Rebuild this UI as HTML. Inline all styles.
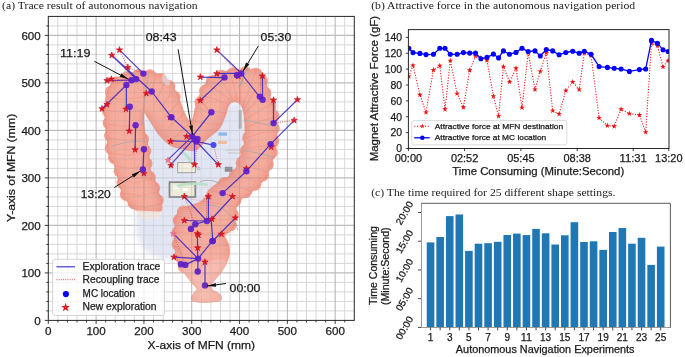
<!DOCTYPE html><html><head><meta charset="utf-8"><style>html,body{margin:0;padding:0;background:#fff;}svg{display:block;}text[font-family*="Sans"]{stroke:#1a1a1a;stroke-width:0.25px;}</style></head><body>
<svg width="685" height="357" viewBox="0 0 685 357">
<rect width="685" height="357" fill="#fff"/>
<g opacity="0.999">
<defs><filter id="blur1" x="-20%" y="-20%" width="140%" height="140%"><feGaussianBlur stdDeviation="0.6"/></filter><filter id="blur3" x="-30%" y="-30%" width="160%" height="160%"><feGaussianBlur stdDeviation="3"/></filter></defs>
<text x="2.10" y="9.10" font-size="11.2" font-family='"Liberation Serif", serif' text-anchor="start" fill="#1a1a1a" textLength="195.6" lengthAdjust="spacingAndGlyphs" >(a) Trace result of autonomous navigation</text>
<path d="M57.86 16.4V320.4M48.3 310.90H354.3M67.42 16.4V320.4M48.3 301.40H354.3M76.99 16.4V320.4M48.3 291.90H354.3M86.55 16.4V320.4M48.3 282.40H354.3M105.67 16.4V320.4M48.3 263.40H354.3M115.24 16.4V320.4M48.3 253.90H354.3M124.80 16.4V320.4M48.3 244.40H354.3M134.36 16.4V320.4M48.3 234.90H354.3M153.49 16.4V320.4M48.3 215.90H354.3M163.05 16.4V320.4M48.3 206.40H354.3M172.61 16.4V320.4M48.3 196.90H354.3M182.18 16.4V320.4M48.3 187.40H354.3M201.30 16.4V320.4M48.3 168.40H354.3M210.86 16.4V320.4M48.3 158.90H354.3M220.43 16.4V320.4M48.3 149.40H354.3M229.99 16.4V320.4M48.3 139.90H354.3M249.11 16.4V320.4M48.3 120.90H354.3M258.68 16.4V320.4M48.3 111.40H354.3M268.24 16.4V320.4M48.3 101.90H354.3M277.80 16.4V320.4M48.3 92.40H354.3M296.93 16.4V320.4M48.3 73.40H354.3M306.49 16.4V320.4M48.3 63.90H354.3M316.05 16.4V320.4M48.3 54.40H354.3M325.61 16.4V320.4M48.3 44.90H354.3M344.74 16.4V320.4M48.3 25.90H354.3" stroke="#d4d4d4" stroke-width="0.9" fill="none"/>
<path d="M96.11 16.4V320.4M143.93 16.4V320.4M191.74 16.4V320.4M239.55 16.4V320.4M287.36 16.4V320.4M335.18 16.4V320.4" stroke="#ababab" stroke-width="0.9" fill="none"/>
<path d="M48.3 272.90H354.3M48.3 225.40H354.3M48.3 177.90H354.3M48.3 130.40H354.3M48.3 82.90H354.3M48.3 35.40H354.3" stroke="#bdbdbd" stroke-width="1.1" fill="none"/>
<g filter="url(#blur3)"><path d="M145 112 L190 140 L226 104 L244 102 L249 150 L245 178 L235 195 L215 208 L190 218 L180 232 L181 258 L162 259 L145 251 L136 232 L137 212 L160 212 L150 180 L144 150 Z" fill="#e2e5f3"/><ellipse cx="166" cy="80" rx="5" ry="4" fill="#e4e8f5"/></g>
<clipPath id="cc"><path d="M105 103C105.5 99.5 106.5 95.2 107.5 92C108.5 88.8 109.2 86.4 111 84C112.8 81.6 115.2 79.2 118 77.5C120.8 75.8 124.3 74.5 128 73.5C131.7 72.5 136.3 71.8 140 71.5C143.7 71.2 146.7 71.4 150 72C153.3 72.6 156.7 73.3 160 75C163.3 76.7 167.3 79.2 170 82C172.7 84.8 174.2 88.3 176 92C177.8 95.7 179.6 100.5 181 104C182.4 107.5 183.3 110.4 184.5 113C185.7 115.6 187.0 118.1 188 119.5C189.0 120.9 189.7 121.8 190.5 121.5C191.3 121.2 192.2 120.4 193 118C193.8 115.6 194.2 111.2 195.5 107C196.8 102.8 198.8 97.0 200.5 93C202.2 89.0 203.9 85.8 206 83C208.1 80.2 210.3 77.8 213 76C215.7 74.2 218.2 73.0 222 72C225.8 71.0 231.7 70.3 236 69.8C240.3 69.3 244.5 68.9 248 69C251.5 69.1 254.5 69.5 257 70.5C259.5 71.5 261.4 72.6 263 75C264.6 77.4 265.4 81.7 266.5 85C267.6 88.3 268.3 91.8 269.5 95C270.7 98.2 272.3 101.0 273.5 104C274.7 107.0 275.9 109.3 276.5 113C277.1 116.7 277.1 120.2 277 126C276.9 131.8 276.8 142.0 276 148C275.2 154.0 273.3 157.8 272 162C270.7 166.2 269.7 169.7 268 173C266.3 176.3 264.3 179.2 262 182C259.7 184.8 256.7 187.7 254 190C251.3 192.3 248.3 194.3 246 196C243.7 197.7 241.6 198.3 240 200C238.4 201.7 237.2 203.5 236.5 206C235.8 208.5 236.3 211.8 236 215C235.7 218.2 235.7 222.2 234.5 225C233.3 227.8 230.6 230.2 229 232C227.4 233.8 225.1 234.0 225 236C224.9 238.0 227.8 241.3 228.5 244C229.2 246.7 229.7 249.2 229.5 252C229.3 254.8 228.8 257.8 227.5 261C226.2 264.2 224.0 268.0 222 271C220.0 274.0 217.3 276.8 215.5 279C213.7 281.2 211.5 282.7 211 284.5C210.5 286.3 211.3 288.6 212.5 290C213.7 291.4 216.5 291.8 218 293C219.5 294.2 221.3 295.7 221.5 297C221.7 298.3 221.6 300.1 219 301C216.4 301.9 210.2 302.4 206 302.5C201.8 302.6 196.5 302.2 194 301.5C191.5 300.8 191.2 299.4 191.2 298C191.2 296.6 193.0 294.5 194 293C195.0 291.5 197.3 290.7 197 289C196.7 287.3 194.0 285.5 192 283C190.0 280.5 187.2 277.0 185 274C182.8 271.0 180.6 268.7 179 265C177.4 261.3 176.3 256.5 175.5 252C174.7 247.5 174.1 242.7 174 238C173.9 233.3 174.6 227.7 175 224C175.4 220.3 175.8 218.2 176.5 216C177.2 213.8 178.2 211.9 179.5 210.5C180.8 209.1 181.9 208.4 184 207.5C186.1 206.6 189.3 205.9 192 205C194.7 204.1 197.8 203.3 200 202C202.2 200.7 203.5 199.0 205 197C206.5 195.0 207.0 192.2 209 190C211.0 187.8 213.5 185.9 217 183.5C220.5 181.1 226.8 178.2 230 175.5C233.2 172.8 234.8 170.1 236.5 167C238.2 163.9 238.8 160.7 240 157C241.2 153.3 243.2 149.5 244 145C244.8 140.5 245.1 135.5 245 130C244.9 124.5 244.3 116.3 243.5 112C242.7 107.7 241.6 105.7 240 104C238.4 102.3 235.8 101.8 234 102C232.2 102.2 230.3 103.0 229 105C227.7 107.0 227.2 110.8 226 114C224.8 117.2 223.3 121.3 222 124C220.7 126.7 219.7 128.2 218 130C216.3 131.8 214.0 133.3 212 135C210.0 136.7 207.8 138.2 206 140C204.2 141.8 202.8 144.2 201 146C199.2 147.8 197.5 149.8 195 150.5C192.5 151.2 188.5 150.3 186 150C183.5 149.7 182.4 149.2 180 148.5C177.6 147.8 173.9 147.2 171.5 146C169.1 144.8 167.6 143.4 165.5 141.5C163.4 139.6 161.0 137.3 159 134.8C157.0 132.3 155.2 129.2 153.4 126.4C151.6 123.6 149.6 120.2 148 118C146.4 115.8 144.5 110.7 144 113C143.5 115.3 144.3 126.5 145 132C145.7 137.5 147.2 141.3 148 146C148.8 150.7 149.0 155.7 149.5 160C150.0 164.3 150.1 168.7 151 172C151.9 175.3 153.7 176.5 155 180C156.3 183.5 157.9 189.2 159 193C160.1 196.8 161.2 200.0 161.5 203C161.8 206.0 162.9 209.4 161 211C159.1 212.6 153.5 212.3 150 212.5C146.5 212.7 142.4 212.4 140 212C137.6 211.6 137.0 211.2 135.5 210C134.0 208.8 132.9 207.0 131 205C129.1 203.0 125.7 200.5 124 198C122.3 195.5 121.9 193.0 121 190C120.1 187.0 119.3 183.3 118.5 180C117.7 176.7 116.9 173.0 116 170C115.1 167.0 114.2 164.3 113 162C111.8 159.7 109.9 158.3 109 156C108.1 153.7 107.8 151.0 107.5 148C107.2 145.0 107.3 141.8 107 138C106.7 134.2 105.9 129.2 105.5 125C105.1 120.8 104.6 116.7 104.5 113C104.4 109.3 104.5 106.5 105 103Z"/><circle cx="111.3" cy="91.9" r="6.3"/><circle cx="116.9" cy="82.8" r="6.3"/><circle cx="126.6" cy="77.6" r="6.3"/><circle cx="138.4" cy="75.3" r="6.3"/><circle cx="149.9" cy="75.6" r="6.3"/><circle cx="160.6" cy="79.4" r="6.3"/><circle cx="168.9" cy="86.3" r="6.3"/><circle cx="174.3" cy="97.0" r="6.3"/><circle cx="200.8" cy="102.2" r="6.3"/><circle cx="205.4" cy="90.9" r="6.3"/><circle cx="212.0" cy="81.5" r="6.3"/><circle cx="221.2" cy="76.0" r="6.3"/><circle cx="233.0" cy="73.8" r="6.3"/><circle cx="245.1" cy="72.6" r="6.3"/><circle cx="256.0" cy="74.0" r="6.3"/><circle cx="261.6" cy="81.0" r="6.3"/><circle cx="265.1" cy="93.1" r="6.3"/><circle cx="270.1" cy="105.1" r="6.3"/><circle cx="273.3" cy="116.1" r="6.3"/><circle cx="273.4" cy="128.3" r="6.3"/><circle cx="273.0" cy="140.9" r="6.3"/><circle cx="271.4" cy="152.6" r="6.3"/><circle cx="267.4" cy="164.5" r="6.3"/><circle cx="262.7" cy="175.1" r="6.3"/><circle cx="255.0" cy="184.2" r="6.3"/><circle cx="245.6" cy="191.9" r="6.3"/><circle cx="235.0" cy="200.6" r="6.3"/><circle cx="232.4" cy="214.5" r="6.3"/><circle cx="230.4" cy="225.0" r="6.3"/><circle cx="184.1" cy="266.8" r="6.3"/><circle cx="180.1" cy="256.3" r="6.3"/><circle cx="178.0" cy="244.3" r="6.3"/><circle cx="177.8" cy="232.4" r="6.3"/><circle cx="179.1" cy="220.3" r="6.3"/><circle cx="183.3" cy="211.9" r="6.3"/><circle cx="224.3" cy="183.4" r="6.3"/><circle cx="235.4" cy="175.2" r="6.3"/><circle cx="242.0" cy="162.8" r="6.3"/><circle cx="246.1" cy="151.0" r="6.3"/><circle cx="248.5" cy="137.7" r="6.3"/><circle cx="142.7" cy="139.2" r="6.3"/><circle cx="145.0" cy="151.0" r="6.3"/><circle cx="146.2" cy="163.5" r="6.3"/><circle cx="149.4" cy="177.3" r="6.3"/><circle cx="153.9" cy="188.1" r="6.3"/><circle cx="157.3" cy="200.2" r="6.3"/><circle cx="133.9" cy="202.9" r="6.3"/><circle cx="126.2" cy="194.5" r="6.3"/><circle cx="122.9" cy="183.0" r="6.3"/><circle cx="119.9" cy="170.7" r="6.3"/><circle cx="114.5" cy="157.8" r="6.3"/><circle cx="111.1" cy="148.1" r="6.3"/><circle cx="110.4" cy="135.5" r="6.3"/><circle cx="108.9" cy="123.1" r="6.3"/><circle cx="108.1" cy="110.9" r="6.3"/></clipPath>
<clipPath id="cc2"><path d="M105 103C105.5 99.5 106.5 95.2 107.5 92C108.5 88.8 109.2 86.4 111 84C112.8 81.6 115.2 79.2 118 77.5C120.8 75.8 124.3 74.5 128 73.5C131.7 72.5 136.3 71.8 140 71.5C143.7 71.2 146.7 71.4 150 72C153.3 72.6 156.7 73.3 160 75C163.3 76.7 167.3 79.2 170 82C172.7 84.8 174.2 88.3 176 92C177.8 95.7 179.6 100.5 181 104C182.4 107.5 183.3 110.4 184.5 113C185.7 115.6 187.0 118.1 188 119.5C189.0 120.9 189.7 121.8 190.5 121.5C191.3 121.2 192.2 120.4 193 118C193.8 115.6 194.2 111.2 195.5 107C196.8 102.8 198.8 97.0 200.5 93C202.2 89.0 203.9 85.8 206 83C208.1 80.2 210.3 77.8 213 76C215.7 74.2 218.2 73.0 222 72C225.8 71.0 231.7 70.3 236 69.8C240.3 69.3 244.5 68.9 248 69C251.5 69.1 254.5 69.5 257 70.5C259.5 71.5 261.4 72.6 263 75C264.6 77.4 265.4 81.7 266.5 85C267.6 88.3 268.3 91.8 269.5 95C270.7 98.2 272.3 101.0 273.5 104C274.7 107.0 275.9 109.3 276.5 113C277.1 116.7 277.1 120.2 277 126C276.9 131.8 276.8 142.0 276 148C275.2 154.0 273.3 157.8 272 162C270.7 166.2 269.7 169.7 268 173C266.3 176.3 264.3 179.2 262 182C259.7 184.8 256.7 187.7 254 190C251.3 192.3 248.3 194.3 246 196C243.7 197.7 241.6 198.3 240 200C238.4 201.7 237.2 203.5 236.5 206C235.8 208.5 236.3 211.8 236 215C235.7 218.2 235.7 222.2 234.5 225C233.3 227.8 230.6 230.2 229 232C227.4 233.8 225.1 234.0 225 236C224.9 238.0 227.8 241.3 228.5 244C229.2 246.7 229.7 249.2 229.5 252C229.3 254.8 228.8 257.8 227.5 261C226.2 264.2 224.0 268.0 222 271C220.0 274.0 217.3 276.8 215.5 279C213.7 281.2 211.5 282.7 211 284.5C210.5 286.3 211.3 288.6 212.5 290C213.7 291.4 216.5 291.8 218 293C219.5 294.2 221.3 295.7 221.5 297C221.7 298.3 221.6 300.1 219 301C216.4 301.9 210.2 302.4 206 302.5C201.8 302.6 196.5 302.2 194 301.5C191.5 300.8 191.2 299.4 191.2 298C191.2 296.6 193.0 294.5 194 293C195.0 291.5 197.3 290.7 197 289C196.7 287.3 194.0 285.5 192 283C190.0 280.5 187.2 277.0 185 274C182.8 271.0 180.6 268.7 179 265C177.4 261.3 176.3 256.5 175.5 252C174.7 247.5 174.1 242.7 174 238C173.9 233.3 174.6 227.7 175 224C175.4 220.3 175.8 218.2 176.5 216C177.2 213.8 178.2 211.9 179.5 210.5C180.8 209.1 181.9 208.4 184 207.5C186.1 206.6 189.3 205.9 192 205C194.7 204.1 197.8 203.3 200 202C202.2 200.7 203.5 199.0 205 197C206.5 195.0 207.0 192.2 209 190C211.0 187.8 213.5 185.9 217 183.5C220.5 181.1 226.8 178.2 230 175.5C233.2 172.8 234.8 170.1 236.5 167C238.2 163.9 238.8 160.7 240 157C241.2 153.3 243.2 149.5 244 145C244.8 140.5 245.1 135.5 245 130C244.9 124.5 244.3 116.3 243.5 112C242.7 107.7 241.6 105.7 240 104C238.4 102.3 235.8 101.8 234 102C232.2 102.2 230.3 103.0 229 105C227.7 107.0 227.2 110.8 226 114C224.8 117.2 223.3 121.3 222 124C220.7 126.7 219.7 128.2 218 130C216.3 131.8 214.0 133.3 212 135C210.0 136.7 207.8 138.2 206 140C204.2 141.8 202.8 144.2 201 146C199.2 147.8 197.5 149.8 195 150.5C192.5 151.2 188.5 150.3 186 150C183.5 149.7 182.4 149.2 180 148.5C177.6 147.8 173.9 147.2 171.5 146C169.1 144.8 167.6 143.4 165.5 141.5C163.4 139.6 161.0 137.3 159 134.8C157.0 132.3 155.2 129.2 153.4 126.4C151.6 123.6 149.6 120.2 148 118C146.4 115.8 144.5 110.7 144 113C143.5 115.3 144.3 126.5 145 132C145.7 137.5 147.2 141.3 148 146C148.8 150.7 149.0 155.7 149.5 160C150.0 164.3 150.1 168.7 151 172C151.9 175.3 153.7 176.5 155 180C156.3 183.5 157.9 189.2 159 193C160.1 196.8 161.2 200.0 161.5 203C161.8 206.0 162.9 209.4 161 211C159.1 212.6 153.5 212.3 150 212.5C146.5 212.7 142.4 212.4 140 212C137.6 211.6 137.0 211.2 135.5 210C134.0 208.8 132.9 207.0 131 205C129.1 203.0 125.7 200.5 124 198C122.3 195.5 121.9 193.0 121 190C120.1 187.0 119.3 183.3 118.5 180C117.7 176.7 116.9 173.0 116 170C115.1 167.0 114.2 164.3 113 162C111.8 159.7 109.9 158.3 109 156C108.1 153.7 107.8 151.0 107.5 148C107.2 145.0 107.3 141.8 107 138C106.7 134.2 105.9 129.2 105.5 125C105.1 120.8 104.6 116.7 104.5 113C104.4 109.3 104.5 106.5 105 103Z"/><circle cx="111.3" cy="91.9" r="6.3"/><circle cx="116.9" cy="82.8" r="6.3"/><circle cx="126.6" cy="77.6" r="6.3"/><circle cx="138.4" cy="75.3" r="6.3"/><circle cx="149.9" cy="75.6" r="6.3"/><circle cx="160.6" cy="79.4" r="6.3"/><circle cx="168.9" cy="86.3" r="6.3"/><circle cx="174.3" cy="97.0" r="6.3"/><circle cx="200.8" cy="102.2" r="6.3"/><circle cx="205.4" cy="90.9" r="6.3"/><circle cx="212.0" cy="81.5" r="6.3"/><circle cx="221.2" cy="76.0" r="6.3"/><circle cx="233.0" cy="73.8" r="6.3"/><circle cx="245.1" cy="72.6" r="6.3"/><circle cx="256.0" cy="74.0" r="6.3"/><circle cx="261.6" cy="81.0" r="6.3"/><circle cx="265.1" cy="93.1" r="6.3"/><circle cx="270.1" cy="105.1" r="6.3"/><circle cx="273.3" cy="116.1" r="6.3"/><circle cx="273.4" cy="128.3" r="6.3"/><circle cx="273.0" cy="140.9" r="6.3"/><circle cx="271.4" cy="152.6" r="6.3"/><circle cx="267.4" cy="164.5" r="6.3"/><circle cx="262.7" cy="175.1" r="6.3"/><circle cx="255.0" cy="184.2" r="6.3"/><circle cx="245.6" cy="191.9" r="6.3"/><circle cx="235.0" cy="200.6" r="6.3"/><circle cx="232.4" cy="214.5" r="6.3"/><circle cx="230.4" cy="225.0" r="6.3"/><circle cx="184.1" cy="266.8" r="6.3"/><circle cx="180.1" cy="256.3" r="6.3"/><circle cx="178.0" cy="244.3" r="6.3"/><circle cx="177.8" cy="232.4" r="6.3"/><circle cx="179.1" cy="220.3" r="6.3"/><circle cx="183.3" cy="211.9" r="6.3"/><circle cx="224.3" cy="183.4" r="6.3"/><circle cx="235.4" cy="175.2" r="6.3"/><circle cx="242.0" cy="162.8" r="6.3"/><circle cx="246.1" cy="151.0" r="6.3"/><circle cx="248.5" cy="137.7" r="6.3"/><circle cx="142.7" cy="139.2" r="6.3"/><circle cx="145.0" cy="151.0" r="6.3"/><circle cx="146.2" cy="163.5" r="6.3"/><circle cx="149.4" cy="177.3" r="6.3"/><circle cx="153.9" cy="188.1" r="6.3"/><circle cx="157.3" cy="200.2" r="6.3"/><circle cx="133.9" cy="202.9" r="6.3"/><circle cx="126.2" cy="194.5" r="6.3"/><circle cx="122.9" cy="183.0" r="6.3"/><circle cx="119.9" cy="170.7" r="6.3"/><circle cx="114.5" cy="157.8" r="6.3"/><circle cx="111.1" cy="148.1" r="6.3"/><circle cx="110.4" cy="135.5" r="6.3"/><circle cx="108.9" cy="123.1" r="6.3"/><circle cx="108.1" cy="110.9" r="6.3"/><path d="M145 112 L190 140 L226 104 L244 102 L249 150 L245 178 L235 195 L215 208 L190 218 L180 232 L181 258 L162 259 L145 251 L136 232 L137 212 L160 212 L150 180 L144 150 Z"/></clipPath>
<g opacity="0.76" fill="#f5937f"><path d="M105 103C105.5 99.5 106.5 95.2 107.5 92C108.5 88.8 109.2 86.4 111 84C112.8 81.6 115.2 79.2 118 77.5C120.8 75.8 124.3 74.5 128 73.5C131.7 72.5 136.3 71.8 140 71.5C143.7 71.2 146.7 71.4 150 72C153.3 72.6 156.7 73.3 160 75C163.3 76.7 167.3 79.2 170 82C172.7 84.8 174.2 88.3 176 92C177.8 95.7 179.6 100.5 181 104C182.4 107.5 183.3 110.4 184.5 113C185.7 115.6 187.0 118.1 188 119.5C189.0 120.9 189.7 121.8 190.5 121.5C191.3 121.2 192.2 120.4 193 118C193.8 115.6 194.2 111.2 195.5 107C196.8 102.8 198.8 97.0 200.5 93C202.2 89.0 203.9 85.8 206 83C208.1 80.2 210.3 77.8 213 76C215.7 74.2 218.2 73.0 222 72C225.8 71.0 231.7 70.3 236 69.8C240.3 69.3 244.5 68.9 248 69C251.5 69.1 254.5 69.5 257 70.5C259.5 71.5 261.4 72.6 263 75C264.6 77.4 265.4 81.7 266.5 85C267.6 88.3 268.3 91.8 269.5 95C270.7 98.2 272.3 101.0 273.5 104C274.7 107.0 275.9 109.3 276.5 113C277.1 116.7 277.1 120.2 277 126C276.9 131.8 276.8 142.0 276 148C275.2 154.0 273.3 157.8 272 162C270.7 166.2 269.7 169.7 268 173C266.3 176.3 264.3 179.2 262 182C259.7 184.8 256.7 187.7 254 190C251.3 192.3 248.3 194.3 246 196C243.7 197.7 241.6 198.3 240 200C238.4 201.7 237.2 203.5 236.5 206C235.8 208.5 236.3 211.8 236 215C235.7 218.2 235.7 222.2 234.5 225C233.3 227.8 230.6 230.2 229 232C227.4 233.8 225.1 234.0 225 236C224.9 238.0 227.8 241.3 228.5 244C229.2 246.7 229.7 249.2 229.5 252C229.3 254.8 228.8 257.8 227.5 261C226.2 264.2 224.0 268.0 222 271C220.0 274.0 217.3 276.8 215.5 279C213.7 281.2 211.5 282.7 211 284.5C210.5 286.3 211.3 288.6 212.5 290C213.7 291.4 216.5 291.8 218 293C219.5 294.2 221.3 295.7 221.5 297C221.7 298.3 221.6 300.1 219 301C216.4 301.9 210.2 302.4 206 302.5C201.8 302.6 196.5 302.2 194 301.5C191.5 300.8 191.2 299.4 191.2 298C191.2 296.6 193.0 294.5 194 293C195.0 291.5 197.3 290.7 197 289C196.7 287.3 194.0 285.5 192 283C190.0 280.5 187.2 277.0 185 274C182.8 271.0 180.6 268.7 179 265C177.4 261.3 176.3 256.5 175.5 252C174.7 247.5 174.1 242.7 174 238C173.9 233.3 174.6 227.7 175 224C175.4 220.3 175.8 218.2 176.5 216C177.2 213.8 178.2 211.9 179.5 210.5C180.8 209.1 181.9 208.4 184 207.5C186.1 206.6 189.3 205.9 192 205C194.7 204.1 197.8 203.3 200 202C202.2 200.7 203.5 199.0 205 197C206.5 195.0 207.0 192.2 209 190C211.0 187.8 213.5 185.9 217 183.5C220.5 181.1 226.8 178.2 230 175.5C233.2 172.8 234.8 170.1 236.5 167C238.2 163.9 238.8 160.7 240 157C241.2 153.3 243.2 149.5 244 145C244.8 140.5 245.1 135.5 245 130C244.9 124.5 244.3 116.3 243.5 112C242.7 107.7 241.6 105.7 240 104C238.4 102.3 235.8 101.8 234 102C232.2 102.2 230.3 103.0 229 105C227.7 107.0 227.2 110.8 226 114C224.8 117.2 223.3 121.3 222 124C220.7 126.7 219.7 128.2 218 130C216.3 131.8 214.0 133.3 212 135C210.0 136.7 207.8 138.2 206 140C204.2 141.8 202.8 144.2 201 146C199.2 147.8 197.5 149.8 195 150.5C192.5 151.2 188.5 150.3 186 150C183.5 149.7 182.4 149.2 180 148.5C177.6 147.8 173.9 147.2 171.5 146C169.1 144.8 167.6 143.4 165.5 141.5C163.4 139.6 161.0 137.3 159 134.8C157.0 132.3 155.2 129.2 153.4 126.4C151.6 123.6 149.6 120.2 148 118C146.4 115.8 144.5 110.7 144 113C143.5 115.3 144.3 126.5 145 132C145.7 137.5 147.2 141.3 148 146C148.8 150.7 149.0 155.7 149.5 160C150.0 164.3 150.1 168.7 151 172C151.9 175.3 153.7 176.5 155 180C156.3 183.5 157.9 189.2 159 193C160.1 196.8 161.2 200.0 161.5 203C161.8 206.0 162.9 209.4 161 211C159.1 212.6 153.5 212.3 150 212.5C146.5 212.7 142.4 212.4 140 212C137.6 211.6 137.0 211.2 135.5 210C134.0 208.8 132.9 207.0 131 205C129.1 203.0 125.7 200.5 124 198C122.3 195.5 121.9 193.0 121 190C120.1 187.0 119.3 183.3 118.5 180C117.7 176.7 116.9 173.0 116 170C115.1 167.0 114.2 164.3 113 162C111.8 159.7 109.9 158.3 109 156C108.1 153.7 107.8 151.0 107.5 148C107.2 145.0 107.3 141.8 107 138C106.7 134.2 105.9 129.2 105.5 125C105.1 120.8 104.6 116.7 104.5 113C104.4 109.3 104.5 106.5 105 103Z"/><circle cx="111.3" cy="91.9" r="6.3"/><circle cx="116.9" cy="82.8" r="6.3"/><circle cx="126.6" cy="77.6" r="6.3"/><circle cx="138.4" cy="75.3" r="6.3"/><circle cx="149.9" cy="75.6" r="6.3"/><circle cx="160.6" cy="79.4" r="6.3"/><circle cx="168.9" cy="86.3" r="6.3"/><circle cx="174.3" cy="97.0" r="6.3"/><circle cx="200.8" cy="102.2" r="6.3"/><circle cx="205.4" cy="90.9" r="6.3"/><circle cx="212.0" cy="81.5" r="6.3"/><circle cx="221.2" cy="76.0" r="6.3"/><circle cx="233.0" cy="73.8" r="6.3"/><circle cx="245.1" cy="72.6" r="6.3"/><circle cx="256.0" cy="74.0" r="6.3"/><circle cx="261.6" cy="81.0" r="6.3"/><circle cx="265.1" cy="93.1" r="6.3"/><circle cx="270.1" cy="105.1" r="6.3"/><circle cx="273.3" cy="116.1" r="6.3"/><circle cx="273.4" cy="128.3" r="6.3"/><circle cx="273.0" cy="140.9" r="6.3"/><circle cx="271.4" cy="152.6" r="6.3"/><circle cx="267.4" cy="164.5" r="6.3"/><circle cx="262.7" cy="175.1" r="6.3"/><circle cx="255.0" cy="184.2" r="6.3"/><circle cx="245.6" cy="191.9" r="6.3"/><circle cx="235.0" cy="200.6" r="6.3"/><circle cx="232.4" cy="214.5" r="6.3"/><circle cx="230.4" cy="225.0" r="6.3"/><circle cx="184.1" cy="266.8" r="6.3"/><circle cx="180.1" cy="256.3" r="6.3"/><circle cx="178.0" cy="244.3" r="6.3"/><circle cx="177.8" cy="232.4" r="6.3"/><circle cx="179.1" cy="220.3" r="6.3"/><circle cx="183.3" cy="211.9" r="6.3"/><circle cx="224.3" cy="183.4" r="6.3"/><circle cx="235.4" cy="175.2" r="6.3"/><circle cx="242.0" cy="162.8" r="6.3"/><circle cx="246.1" cy="151.0" r="6.3"/><circle cx="248.5" cy="137.7" r="6.3"/><circle cx="142.7" cy="139.2" r="6.3"/><circle cx="145.0" cy="151.0" r="6.3"/><circle cx="146.2" cy="163.5" r="6.3"/><circle cx="149.4" cy="177.3" r="6.3"/><circle cx="153.9" cy="188.1" r="6.3"/><circle cx="157.3" cy="200.2" r="6.3"/><circle cx="133.9" cy="202.9" r="6.3"/><circle cx="126.2" cy="194.5" r="6.3"/><circle cx="122.9" cy="183.0" r="6.3"/><circle cx="119.9" cy="170.7" r="6.3"/><circle cx="114.5" cy="157.8" r="6.3"/><circle cx="111.1" cy="148.1" r="6.3"/><circle cx="110.4" cy="135.5" r="6.3"/><circle cx="108.9" cy="123.1" r="6.3"/><circle cx="108.1" cy="110.9" r="6.3"/></g>
<g clip-path="url(#cc)"><path d="M105 103C105.5 99.5 106.5 95.2 107.5 92C108.5 88.8 109.2 86.4 111 84C112.8 81.6 115.2 79.2 118 77.5C120.8 75.8 124.3 74.5 128 73.5C131.7 72.5 136.3 71.8 140 71.5C143.7 71.2 146.7 71.4 150 72C153.3 72.6 156.7 73.3 160 75C163.3 76.7 167.3 79.2 170 82C172.7 84.8 174.2 88.3 176 92C177.8 95.7 179.6 100.5 181 104C182.4 107.5 183.3 110.4 184.5 113C185.7 115.6 187.0 118.1 188 119.5C189.0 120.9 189.7 121.8 190.5 121.5C191.3 121.2 192.2 120.4 193 118C193.8 115.6 194.2 111.2 195.5 107C196.8 102.8 198.8 97.0 200.5 93C202.2 89.0 203.9 85.8 206 83C208.1 80.2 210.3 77.8 213 76C215.7 74.2 218.2 73.0 222 72C225.8 71.0 231.7 70.3 236 69.8C240.3 69.3 244.5 68.9 248 69C251.5 69.1 254.5 69.5 257 70.5C259.5 71.5 261.4 72.6 263 75C264.6 77.4 265.4 81.7 266.5 85C267.6 88.3 268.3 91.8 269.5 95C270.7 98.2 272.3 101.0 273.5 104C274.7 107.0 275.9 109.3 276.5 113C277.1 116.7 277.1 120.2 277 126C276.9 131.8 276.8 142.0 276 148C275.2 154.0 273.3 157.8 272 162C270.7 166.2 269.7 169.7 268 173C266.3 176.3 264.3 179.2 262 182C259.7 184.8 256.7 187.7 254 190C251.3 192.3 248.3 194.3 246 196C243.7 197.7 241.6 198.3 240 200C238.4 201.7 237.2 203.5 236.5 206C235.8 208.5 236.3 211.8 236 215C235.7 218.2 235.7 222.2 234.5 225C233.3 227.8 230.6 230.2 229 232C227.4 233.8 225.1 234.0 225 236C224.9 238.0 227.8 241.3 228.5 244C229.2 246.7 229.7 249.2 229.5 252C229.3 254.8 228.8 257.8 227.5 261C226.2 264.2 224.0 268.0 222 271C220.0 274.0 217.3 276.8 215.5 279C213.7 281.2 211.5 282.7 211 284.5C210.5 286.3 211.3 288.6 212.5 290C213.7 291.4 216.5 291.8 218 293C219.5 294.2 221.3 295.7 221.5 297C221.7 298.3 221.6 300.1 219 301C216.4 301.9 210.2 302.4 206 302.5C201.8 302.6 196.5 302.2 194 301.5C191.5 300.8 191.2 299.4 191.2 298C191.2 296.6 193.0 294.5 194 293C195.0 291.5 197.3 290.7 197 289C196.7 287.3 194.0 285.5 192 283C190.0 280.5 187.2 277.0 185 274C182.8 271.0 180.6 268.7 179 265C177.4 261.3 176.3 256.5 175.5 252C174.7 247.5 174.1 242.7 174 238C173.9 233.3 174.6 227.7 175 224C175.4 220.3 175.8 218.2 176.5 216C177.2 213.8 178.2 211.9 179.5 210.5C180.8 209.1 181.9 208.4 184 207.5C186.1 206.6 189.3 205.9 192 205C194.7 204.1 197.8 203.3 200 202C202.2 200.7 203.5 199.0 205 197C206.5 195.0 207.0 192.2 209 190C211.0 187.8 213.5 185.9 217 183.5C220.5 181.1 226.8 178.2 230 175.5C233.2 172.8 234.8 170.1 236.5 167C238.2 163.9 238.8 160.7 240 157C241.2 153.3 243.2 149.5 244 145C244.8 140.5 245.1 135.5 245 130C244.9 124.5 244.3 116.3 243.5 112C242.7 107.7 241.6 105.7 240 104C238.4 102.3 235.8 101.8 234 102C232.2 102.2 230.3 103.0 229 105C227.7 107.0 227.2 110.8 226 114C224.8 117.2 223.3 121.3 222 124C220.7 126.7 219.7 128.2 218 130C216.3 131.8 214.0 133.3 212 135C210.0 136.7 207.8 138.2 206 140C204.2 141.8 202.8 144.2 201 146C199.2 147.8 197.5 149.8 195 150.5C192.5 151.2 188.5 150.3 186 150C183.5 149.7 182.4 149.2 180 148.5C177.6 147.8 173.9 147.2 171.5 146C169.1 144.8 167.6 143.4 165.5 141.5C163.4 139.6 161.0 137.3 159 134.8C157.0 132.3 155.2 129.2 153.4 126.4C151.6 123.6 149.6 120.2 148 118C146.4 115.8 144.5 110.7 144 113C143.5 115.3 144.3 126.5 145 132C145.7 137.5 147.2 141.3 148 146C148.8 150.7 149.0 155.7 149.5 160C150.0 164.3 150.1 168.7 151 172C151.9 175.3 153.7 176.5 155 180C156.3 183.5 157.9 189.2 159 193C160.1 196.8 161.2 200.0 161.5 203C161.8 206.0 162.9 209.4 161 211C159.1 212.6 153.5 212.3 150 212.5C146.5 212.7 142.4 212.4 140 212C137.6 211.6 137.0 211.2 135.5 210C134.0 208.8 132.9 207.0 131 205C129.1 203.0 125.7 200.5 124 198C122.3 195.5 121.9 193.0 121 190C120.1 187.0 119.3 183.3 118.5 180C117.7 176.7 116.9 173.0 116 170C115.1 167.0 114.2 164.3 113 162C111.8 159.7 109.9 158.3 109 156C108.1 153.7 107.8 151.0 107.5 148C107.2 145.0 107.3 141.8 107 138C106.7 134.2 105.9 129.2 105.5 125C105.1 120.8 104.6 116.7 104.5 113C104.4 109.3 104.5 106.5 105 103Z" fill="none" stroke="#ea8472" stroke-width="7" opacity="0.45" filter="url(#blur3)"/></g>
<path d="M105 97 L125 99.5 L143 97M105 110 L125 112.5 L143 110M106 124 L125 126.5 L143.5 124M107.5 138 L126 140.5 L144 138M109 153 L128 155.5 L145.5 152M114 166 L132 168.5 L148.5 165M118.5 180 L136 182.5 L152 179M122 193 L140 195.5 L157 192M127 205 L144 207.5 L161 204M146 71 L145 92 L143.5 112M156 73 L151 96M166 79 L156 102M174 89 L160 110M180 101 L164 118M185 113 L169 127M189 124 L175 137M194 121 L210 124 L222 124M196.5 108 L212 111 L226 113M200 95 L215 99 L228 104M206 84 L220 92 L231 101M216 74 L226 88 L233 100M229 70.5 L234 86 L237 100M243 69 L241 86 L240 102M256 71 L249 88 L243 106M265 78 L254 92 L244 109M271 90 L258 100 L244 114M275 103 L260 110 L245 120M277 117 L261 121 L245.5 128M277 131 L261 133 L246 138M276 146 L260 146 L245 149M273 159 L258 158 L243 158M268 172 L252 168 L238 166M261 182 L246 178 L231 177M252 191 L238 187 L222 186M242 199 L226 194 L208 190M236.5 207 L215 203 L185 198M236 219 L210 220 L176 216M234 232 L205 234 L174.5 232M229 245 L200 248 L175 247M223 258 L200 260 L178 262M217 275 L200 275 L186 275" stroke="#d87464" stroke-width="1.2" fill="none" opacity="0.22" stroke-linecap="round" stroke-linejoin="round" filter="url(#blur1)"/>
<path d="M105 103C105.5 99.5 106.5 95.2 107.5 92C108.5 88.8 109.2 86.4 111 84C112.8 81.6 115.2 79.2 118 77.5C120.8 75.8 124.3 74.5 128 73.5C131.7 72.5 136.3 71.8 140 71.5C143.7 71.2 146.7 71.4 150 72C153.3 72.6 156.7 73.3 160 75C163.3 76.7 167.3 79.2 170 82C172.7 84.8 174.2 88.3 176 92C177.8 95.7 179.6 100.5 181 104C182.4 107.5 183.3 110.4 184.5 113C185.7 115.6 187.0 118.1 188 119.5C189.0 120.9 189.7 121.8 190.5 121.5C191.3 121.2 192.2 120.4 193 118C193.8 115.6 194.2 111.2 195.5 107C196.8 102.8 198.8 97.0 200.5 93C202.2 89.0 203.9 85.8 206 83C208.1 80.2 210.3 77.8 213 76C215.7 74.2 218.2 73.0 222 72C225.8 71.0 231.7 70.3 236 69.8C240.3 69.3 244.5 68.9 248 69C251.5 69.1 254.5 69.5 257 70.5C259.5 71.5 261.4 72.6 263 75C264.6 77.4 265.4 81.7 266.5 85C267.6 88.3 268.3 91.8 269.5 95C270.7 98.2 272.3 101.0 273.5 104C274.7 107.0 275.9 109.3 276.5 113C277.1 116.7 277.1 120.2 277 126C276.9 131.8 276.8 142.0 276 148C275.2 154.0 273.3 157.8 272 162C270.7 166.2 269.7 169.7 268 173C266.3 176.3 264.3 179.2 262 182C259.7 184.8 256.7 187.7 254 190C251.3 192.3 248.3 194.3 246 196C243.7 197.7 241.6 198.3 240 200C238.4 201.7 237.2 203.5 236.5 206C235.8 208.5 236.3 211.8 236 215C235.7 218.2 235.7 222.2 234.5 225C233.3 227.8 230.6 230.2 229 232C227.4 233.8 225.1 234.0 225 236C224.9 238.0 227.8 241.3 228.5 244C229.2 246.7 229.7 249.2 229.5 252C229.3 254.8 228.8 257.8 227.5 261C226.2 264.2 224.0 268.0 222 271C220.0 274.0 217.3 276.8 215.5 279C213.7 281.2 211.5 282.7 211 284.5C210.5 286.3 211.3 288.6 212.5 290C213.7 291.4 216.5 291.8 218 293C219.5 294.2 221.3 295.7 221.5 297C221.7 298.3 221.6 300.1 219 301C216.4 301.9 210.2 302.4 206 302.5C201.8 302.6 196.5 302.2 194 301.5C191.5 300.8 191.2 299.4 191.2 298C191.2 296.6 193.0 294.5 194 293C195.0 291.5 197.3 290.7 197 289C196.7 287.3 194.0 285.5 192 283C190.0 280.5 187.2 277.0 185 274C182.8 271.0 180.6 268.7 179 265C177.4 261.3 176.3 256.5 175.5 252C174.7 247.5 174.1 242.7 174 238C173.9 233.3 174.6 227.7 175 224C175.4 220.3 175.8 218.2 176.5 216C177.2 213.8 178.2 211.9 179.5 210.5C180.8 209.1 181.9 208.4 184 207.5C186.1 206.6 189.3 205.9 192 205C194.7 204.1 197.8 203.3 200 202C202.2 200.7 203.5 199.0 205 197C206.5 195.0 207.0 192.2 209 190C211.0 187.8 213.5 185.9 217 183.5C220.5 181.1 226.8 178.2 230 175.5C233.2 172.8 234.8 170.1 236.5 167C238.2 163.9 238.8 160.7 240 157C241.2 153.3 243.2 149.5 244 145C244.8 140.5 245.1 135.5 245 130C244.9 124.5 244.3 116.3 243.5 112C242.7 107.7 241.6 105.7 240 104C238.4 102.3 235.8 101.8 234 102C232.2 102.2 230.3 103.0 229 105C227.7 107.0 227.2 110.8 226 114C224.8 117.2 223.3 121.3 222 124C220.7 126.7 219.7 128.2 218 130C216.3 131.8 214.0 133.3 212 135C210.0 136.7 207.8 138.2 206 140C204.2 141.8 202.8 144.2 201 146C199.2 147.8 197.5 149.8 195 150.5C192.5 151.2 188.5 150.3 186 150C183.5 149.7 182.4 149.2 180 148.5C177.6 147.8 173.9 147.2 171.5 146C169.1 144.8 167.6 143.4 165.5 141.5C163.4 139.6 161.0 137.3 159 134.8C157.0 132.3 155.2 129.2 153.4 126.4C151.6 123.6 149.6 120.2 148 118C146.4 115.8 144.5 110.7 144 113C143.5 115.3 144.3 126.5 145 132C145.7 137.5 147.2 141.3 148 146C148.8 150.7 149.0 155.7 149.5 160C150.0 164.3 150.1 168.7 151 172C151.9 175.3 153.7 176.5 155 180C156.3 183.5 157.9 189.2 159 193C160.1 196.8 161.2 200.0 161.5 203C161.8 206.0 162.9 209.4 161 211C159.1 212.6 153.5 212.3 150 212.5C146.5 212.7 142.4 212.4 140 212C137.6 211.6 137.0 211.2 135.5 210C134.0 208.8 132.9 207.0 131 205C129.1 203.0 125.7 200.5 124 198C122.3 195.5 121.9 193.0 121 190C120.1 187.0 119.3 183.3 118.5 180C117.7 176.7 116.9 173.0 116 170C115.1 167.0 114.2 164.3 113 162C111.8 159.7 109.9 158.3 109 156C108.1 153.7 107.8 151.0 107.5 148C107.2 145.0 107.3 141.8 107 138C106.7 134.2 105.9 129.2 105.5 125C105.1 120.8 104.6 116.7 104.5 113C104.4 109.3 104.5 106.5 105 103Z" fill="none" stroke="#e8806e" stroke-width="1.2" opacity="0.4" filter="url(#blur1)"/>
<path d="M136 210.5 L161 211.5 L160 218 L142 219.5 L138 215 Z" fill="#f3e6de" opacity="0.9"/>
<g clip-path="url(#cc)"><path d="M170 268 L230 258 L235 310 L170 310 Z" fill="#fff" opacity="0.22" filter="url(#blur3)"/></g>
<ellipse cx="166" cy="80" rx="3.5" ry="6" transform="rotate(-30 166 80)" fill="#e4e6f6" opacity="0.6" filter="url(#blur1)"/>
<g fill="none" stroke="#a8a8a8" stroke-width="1" opacity="0.8"><path d="M112 146 C125 142 138 141 146 141"/><path d="M149 72 C147 85 144 100 142 125"/><path d="M243.8 120 C255 122 268 125 277.4 127"/><path d="M243.8 150.6 C255 152 265 155 274 157.3"/><path d="M208 205 C222 206 232 212 238 230"/><path d="M247.5 68.5 L239 87.5" stroke-width="1.6"/></g>
<path d="M180.5 151.5 C186 154 190 158 190.5 163" stroke="#b9e0c8" stroke-width="3" fill="none" opacity="0.9"/>
<rect x="177.7" y="162.6" width="17.7" height="10.1" fill="#f1efdf" stroke="#9a9a9a" stroke-width="0.9"/>
<circle cx="198.7" cy="168.5" r="1.3" fill="none" stroke="#999" stroke-width="0.6"/>
<rect x="169.5" y="182.2" width="25.8" height="14.8" fill="#efedda" stroke="#858585" stroke-width="1.8"/>
<rect x="173" y="186" width="6" height="3" fill="#fff" opacity="0.8"/>
<rect x="182" y="188" width="6" height="3" fill="#fff" opacity="0.8"/>
<path d="M177 186 C188 183 198 183 208 185" stroke="#b9e0c8" stroke-width="2.6" fill="none" opacity="0.9"/>
<path d="M200 181.5 C207 179.5 214 180 221 184" stroke="#a0a0a0" stroke-width="1" fill="none" opacity="0.8"/>
<rect x="224.8" y="166.8" width="7.6" height="5" fill="#8d8d8d"/>
<rect x="238.7" y="110" width="3" height="18.7" fill="#a7a7a7" opacity="0.8"/>
<rect x="218.5" y="132.5" width="8.5" height="3.2" fill="#7ab0e8" opacity="0.85"/>
<rect x="218" y="140.8" width="9" height="3.2" fill="#f2b890" opacity="0.85"/>
<path d="M226 150 L244 150 M228 153 L240 153" stroke="#b0b0b0" stroke-width="0.8" fill="none" opacity="0.7"/>
<g clip-path="url(#cc2)" opacity="0.3"><path d="M57.86 16.4V320.4M48.3 310.90H354.3M67.42 16.4V320.4M48.3 301.40H354.3M76.99 16.4V320.4M48.3 291.90H354.3M86.55 16.4V320.4M48.3 282.40H354.3M105.67 16.4V320.4M48.3 263.40H354.3M115.24 16.4V320.4M48.3 253.90H354.3M124.80 16.4V320.4M48.3 244.40H354.3M134.36 16.4V320.4M48.3 234.90H354.3M153.49 16.4V320.4M48.3 215.90H354.3M163.05 16.4V320.4M48.3 206.40H354.3M172.61 16.4V320.4M48.3 196.90H354.3M182.18 16.4V320.4M48.3 187.40H354.3M201.30 16.4V320.4M48.3 168.40H354.3M210.86 16.4V320.4M48.3 158.90H354.3M220.43 16.4V320.4M48.3 149.40H354.3M229.99 16.4V320.4M48.3 139.90H354.3M249.11 16.4V320.4M48.3 120.90H354.3M258.68 16.4V320.4M48.3 111.40H354.3M268.24 16.4V320.4M48.3 101.90H354.3M277.80 16.4V320.4M48.3 92.40H354.3M296.93 16.4V320.4M48.3 73.40H354.3M306.49 16.4V320.4M48.3 63.90H354.3M316.05 16.4V320.4M48.3 54.40H354.3M325.61 16.4V320.4M48.3 44.90H354.3M344.74 16.4V320.4M48.3 25.90H354.3" stroke="#b8b8b8" stroke-width="0.9" fill="none"/><path d="M96.11 16.4V320.4M48.3 272.90H354.3M143.93 16.4V320.4M48.3 225.40H354.3M191.74 16.4V320.4M48.3 177.90H354.3M239.55 16.4V320.4M48.3 130.40H354.3M287.36 16.4V320.4M48.3 82.90H354.3M335.18 16.4V320.4M48.3 35.40H354.3" stroke="#909090" stroke-width="0.9" fill="none"/></g>
<path d="M119.5 49.9 L143.4 73.6M111.8 55.3 L136.2 79.1M111.8 55.3 L151.7 91.5 L171.4 117.3 L192.3 136.4M107 80.6 L131.5 80.2M126.4 85 L102 108.7M126.4 85 L126.4 108M129.8 106.8 L129.3 131.1M135.6 125.2 L135.1 149.7M143.9 149.3 L142.9 169.5M211.4 112.2 L192.3 136.4M170.4 140.8 L196.4 141.5M196.4 141.5 L213.5 145.1M192.3 136.4 L167.8 159.9M194.3 138.4 L170.7 164.9M194.5 141.5 L194.5 164.6M196.4 141.5 L218.3 164.6M224.4 77.6 L200.3 77.2M224.4 77.6 L200.3 100.5M216.8 49.9 L241.3 73.2M216.8 73.7 L241.3 73.2M241.3 73.5 L260 97.3M262.4 76.2 L262.6 99.7M273.5 100.1 L273.5 123.1M297.4 99.7 L273.5 123.1M294.2 120.4 L270.6 144.1 L246.4 171.2 L222.6 193.1M184.3 196.5 L206.9 221M208.4 196.5 L208.4 221M232.5 196.5 L209.9 221M184.3 220.5 L206.9 221M206.9 221 L195.3 224.2 L190.9 228.9M211.3 221 L212.8 241M235.4 217.9 L212.8 241M173.4 233.7 L198.1 258.6M197.4 233.7 L197.7 258.6M212.3 241.1 L198.1 258.6M173.9 257.2 L198.1 258.6M198.1 258.6 L185.3 264.9 L180.9 264.2M198.1 258.6 L197.7 271.5M205 262 L205 285.4M224.4 77.6 L200.3 77.2M211.3 112.7 L192.3 136.4" stroke="#3020c8" stroke-width="1.2" fill="none" opacity="0.85" stroke-linejoin="round"/>
<path d="M119.5 49.9 L127.8 67.4 L143.4 73.6M107 80.6 L131.5 80.8M216.8 49.9 L238 73M260.4 76.2 L260.6 97M273.5 123.1 L294.2 120.4M200.3 100.5 L211.3 112.7M213.5 145.1 L218.3 164.6M192 138 L170.7 164.9M196.5 142 L195.8 164.6M222.6 193.1 L232.5 196.5M184.3 196.5 L193.8 221.3M206.5 196.5 L206.5 221M221.5 234.1 L214.5 239.5M173.4 233.7 L185.3 264.9M205 262 L198 270M126.4 85 L107 104.6" stroke="#e05050" stroke-width="0.85" fill="none" stroke-dasharray="1 1.2"/>
<polygon points="119.50,46.60 120.24,48.88 122.64,48.88 120.70,50.29 121.44,52.57 119.50,51.16 117.56,52.57 118.30,50.29 116.36,48.88 118.76,48.88" fill="#dc1624" stroke="#d01424" stroke-width="0.7" stroke-linejoin="miter" />
<polygon points="111.80,52.00 112.54,54.28 114.94,54.28 113.00,55.69 113.74,57.97 111.80,56.56 109.86,57.97 110.60,55.69 108.66,54.28 111.06,54.28" fill="#dc1624" stroke="#d01424" stroke-width="0.7" stroke-linejoin="miter" />
<polygon points="127.80,64.10 128.54,66.38 130.94,66.38 129.00,67.79 129.74,70.07 127.80,68.66 125.86,70.07 126.60,67.79 124.66,66.38 127.06,66.38" fill="#dc1624" stroke="#d01424" stroke-width="0.7" stroke-linejoin="miter" />
<polygon points="107.00,77.30 107.74,79.58 110.14,79.58 108.20,80.99 108.94,83.27 107.00,81.86 105.06,83.27 105.80,80.99 103.86,79.58 106.26,79.58" fill="#dc1624" stroke="#d01424" stroke-width="0.7" stroke-linejoin="miter" />
<polygon points="111.40,75.80 112.14,78.08 114.54,78.08 112.60,79.49 113.34,81.77 111.40,80.36 109.46,81.77 110.20,79.49 108.26,78.08 110.66,78.08" fill="#dc1624" stroke="#d01424" stroke-width="0.7" stroke-linejoin="miter" />
<polygon points="107.00,101.30 107.74,103.58 110.14,103.58 108.20,104.99 108.94,107.27 107.00,105.86 105.06,107.27 105.80,104.99 103.86,103.58 106.26,103.58" fill="#dc1624" stroke="#d01424" stroke-width="0.7" stroke-linejoin="miter" />
<polygon points="102.00,105.40 102.74,107.68 105.14,107.68 103.20,109.09 103.94,111.37 102.00,109.96 100.06,111.37 100.80,109.09 98.86,107.68 101.26,107.68" fill="#dc1624" stroke="#d01424" stroke-width="0.7" stroke-linejoin="miter" />
<polygon points="126.00,105.80 126.74,108.08 129.14,108.08 127.20,109.49 127.94,111.77 126.00,110.36 124.06,111.77 124.80,109.49 122.86,108.08 125.26,108.08" fill="#dc1624" stroke="#d01424" stroke-width="0.7" stroke-linejoin="miter" />
<polygon points="146.40,90.10 147.14,92.38 149.54,92.38 147.60,93.79 148.34,96.07 146.40,94.66 144.46,96.07 145.20,93.79 143.26,92.38 145.66,92.38" fill="#dc1624" stroke="#d01424" stroke-width="0.7" stroke-linejoin="miter" />
<polygon points="170.20,114.10 170.94,116.38 173.34,116.38 171.40,117.79 172.14,120.07 170.20,118.66 168.26,120.07 169.00,117.79 167.06,116.38 169.46,116.38" fill="#dc1624" stroke="#d01424" stroke-width="0.7" stroke-linejoin="miter" />
<polygon points="129.30,127.80 130.04,130.08 132.44,130.08 130.50,131.49 131.24,133.77 129.30,132.36 127.36,133.77 128.10,131.49 126.16,130.08 128.56,130.08" fill="#dc1624" stroke="#d01424" stroke-width="0.7" stroke-linejoin="miter" />
<polygon points="135.10,146.40 135.84,148.68 138.24,148.68 136.30,150.09 137.04,152.37 135.10,150.96 133.16,152.37 133.90,150.09 131.96,148.68 134.36,148.68" fill="#dc1624" stroke="#d01424" stroke-width="0.7" stroke-linejoin="miter" />
<polygon points="170.60,138.00 171.34,140.28 173.74,140.28 171.80,141.69 172.54,143.97 170.60,142.56 168.66,143.97 169.40,141.69 167.46,140.28 169.86,140.28" fill="#dc1624" stroke="#d01424" stroke-width="0.7" stroke-linejoin="miter" />
<polygon points="186.70,133.30 187.44,135.58 189.84,135.58 187.90,136.99 188.64,139.27 186.70,137.86 184.76,139.27 185.50,136.99 183.56,135.58 185.96,135.58" fill="#dc1624" stroke="#d01424" stroke-width="0.7" stroke-linejoin="miter" />
<polygon points="170.90,162.10 171.64,164.38 174.04,164.38 172.10,165.79 172.84,168.07 170.90,166.66 168.96,168.07 169.70,165.79 167.76,164.38 170.16,164.38" fill="#dc1624" stroke="#d01424" stroke-width="0.7" stroke-linejoin="miter" />
<polygon points="143.90,170.10 144.64,172.38 147.04,172.38 145.10,173.79 145.84,176.07 143.90,174.66 141.96,176.07 142.70,173.79 140.76,172.38 143.16,172.38" fill="#dc1624" stroke="#d01424" stroke-width="0.7" stroke-linejoin="miter" />
<polygon points="194.50,161.30 195.24,163.58 197.64,163.58 195.70,164.99 196.44,167.27 194.50,165.86 192.56,167.27 193.30,164.99 191.36,163.58 193.76,163.58" fill="#dc1624" stroke="#d01424" stroke-width="0.7" stroke-linejoin="miter" />
<polygon points="218.30,161.30 219.04,163.58 221.44,163.58 219.50,164.99 220.24,167.27 218.30,165.86 216.36,167.27 217.10,164.99 215.16,163.58 217.56,163.58" fill="#dc1624" stroke="#d01424" stroke-width="0.7" stroke-linejoin="miter" />
<polygon points="246.40,165.40 247.14,167.68 249.54,167.68 247.60,169.09 248.34,171.37 246.40,169.96 244.46,171.37 245.20,169.09 243.26,167.68 245.66,167.68" fill="#dc1624" stroke="#d01424" stroke-width="0.7" stroke-linejoin="miter" />
<polygon points="184.30,193.20 185.04,195.48 187.44,195.48 185.50,196.89 186.24,199.17 184.30,197.76 182.36,199.17 183.10,196.89 181.16,195.48 183.56,195.48" fill="#dc1624" stroke="#d01424" stroke-width="0.7" stroke-linejoin="miter" />
<polygon points="208.40,193.20 209.14,195.48 211.54,195.48 209.60,196.89 210.34,199.17 208.40,197.76 206.46,199.17 207.20,196.89 205.26,195.48 207.66,195.48" fill="#dc1624" stroke="#d01424" stroke-width="0.7" stroke-linejoin="miter" />
<polygon points="232.50,193.20 233.24,195.48 235.64,195.48 233.70,196.89 234.44,199.17 232.50,197.76 230.56,199.17 231.30,196.89 229.36,195.48 231.76,195.48" fill="#dc1624" stroke="#d01424" stroke-width="0.7" stroke-linejoin="miter" />
<polygon points="184.30,217.20 185.04,219.48 187.44,219.48 185.50,220.89 186.24,223.17 184.30,221.76 182.36,223.17 183.10,220.89 181.16,219.48 183.56,219.48" fill="#dc1624" stroke="#d01424" stroke-width="0.7" stroke-linejoin="miter" />
<polygon points="212.00,215.80 212.74,218.08 215.14,218.08 213.20,219.49 213.94,221.77 212.00,220.36 210.06,221.77 210.80,219.49 208.86,218.08 211.26,218.08" fill="#dc1624" stroke="#d01424" stroke-width="0.7" stroke-linejoin="miter" />
<polygon points="235.40,214.60 236.14,216.88 238.54,216.88 236.60,218.29 237.34,220.57 235.40,219.16 233.46,220.57 234.20,218.29 232.26,216.88 234.66,216.88" fill="#dc1624" stroke="#d01424" stroke-width="0.7" stroke-linejoin="miter" />
<polygon points="197.40,230.40 198.14,232.68 200.54,232.68 198.60,234.09 199.34,236.37 197.40,234.96 195.46,236.37 196.20,234.09 194.26,232.68 196.66,232.68" fill="#dc1624" stroke="#d01424" stroke-width="0.7" stroke-linejoin="miter" />
<polygon points="221.50,230.80 222.24,233.08 224.64,233.08 222.70,234.49 223.44,236.77 221.50,235.36 219.56,236.77 220.30,234.49 218.36,233.08 220.76,233.08" fill="#dc1624" stroke="#d01424" stroke-width="0.7" stroke-linejoin="miter" />
<polygon points="173.90,253.90 174.64,256.18 177.04,256.18 175.10,257.59 175.84,259.87 173.90,258.46 171.96,259.87 172.70,257.59 170.76,256.18 173.16,256.18" fill="#dc1624" stroke="#d01424" stroke-width="0.7" stroke-linejoin="miter" />
<polygon points="197.70,244.50 198.44,246.78 200.84,246.78 198.90,248.19 199.64,250.47 197.70,249.06 195.76,250.47 196.50,248.19 194.56,246.78 196.96,246.78" fill="#dc1624" stroke="#d01424" stroke-width="0.7" stroke-linejoin="miter" />
<polygon points="205.00,258.70 205.74,260.98 208.14,260.98 206.20,262.39 206.94,264.67 205.00,263.26 203.06,264.67 203.80,262.39 201.86,260.98 204.26,260.98" fill="#dc1624" stroke="#d01424" stroke-width="0.7" stroke-linejoin="miter" />
<polygon points="216.80,46.60 217.54,48.88 219.94,48.88 218.00,50.29 218.74,52.57 216.80,51.16 214.86,52.57 215.60,50.29 213.66,48.88 216.06,48.88" fill="#dc1624" stroke="#d01424" stroke-width="0.7" stroke-linejoin="miter" />
<polygon points="216.80,70.40 217.54,72.68 219.94,72.68 218.00,74.09 218.74,76.37 216.80,74.96 214.86,76.37 215.60,74.09 213.66,72.68 216.06,72.68" fill="#dc1624" stroke="#d01424" stroke-width="0.7" stroke-linejoin="miter" />
<polygon points="200.40,73.70 201.14,75.98 203.54,75.98 201.60,77.39 202.34,79.67 200.40,78.26 198.46,79.67 199.20,77.39 197.26,75.98 199.66,75.98" fill="#dc1624" stroke="#d01424" stroke-width="0.7" stroke-linejoin="miter" />
<polygon points="262.50,72.60 263.24,74.88 265.64,74.88 263.70,76.29 264.44,78.57 262.50,77.16 260.56,78.57 261.30,76.29 259.36,74.88 261.76,74.88" fill="#dc1624" stroke="#d01424" stroke-width="0.7" stroke-linejoin="miter" />
<polygon points="238.40,72.90 239.14,75.18 241.54,75.18 239.60,76.59 240.34,78.87 238.40,77.46 236.46,78.87 237.20,76.59 235.26,75.18 237.66,75.18" fill="#dc1624" stroke="#d01424" stroke-width="0.7" stroke-linejoin="miter" />
<polygon points="200.30,97.20 201.04,99.48 203.44,99.48 201.50,100.89 202.24,103.17 200.30,101.76 198.36,103.17 199.10,100.89 197.16,99.48 199.56,99.48" fill="#dc1624" stroke="#d01424" stroke-width="0.7" stroke-linejoin="miter" />
<polygon points="273.50,96.80 274.24,99.08 276.64,99.08 274.70,100.49 275.44,102.77 273.50,101.36 271.56,102.77 272.30,100.49 270.36,99.08 272.76,99.08" fill="#dc1624" stroke="#d01424" stroke-width="0.7" stroke-linejoin="miter" />
<polygon points="297.40,96.40 298.14,98.68 300.54,98.68 298.60,100.09 299.34,102.37 297.40,100.96 295.46,102.37 296.20,100.09 294.26,98.68 296.66,98.68" fill="#dc1624" stroke="#d01424" stroke-width="0.7" stroke-linejoin="miter" />
<polygon points="294.20,117.10 294.94,119.38 297.34,119.38 295.40,120.79 296.14,123.07 294.20,121.66 292.26,123.07 293.00,120.79 291.06,119.38 293.46,119.38" fill="#dc1624" stroke="#d01424" stroke-width="0.7" stroke-linejoin="miter" />
<polygon points="271.30,143.70 272.04,145.98 274.44,145.98 272.50,147.39 273.24,149.67 271.30,148.26 269.36,149.67 270.10,147.39 268.16,145.98 270.56,145.98" fill="#dc1624" stroke="#d01424" stroke-width="0.7" stroke-linejoin="miter" />
<polygon points="198.40,231.70 199.14,233.98 201.54,233.98 199.60,235.39 200.34,237.67 198.40,236.26 196.46,237.67 197.20,235.39 195.26,233.98 197.66,233.98" fill="#dc1624" stroke="#d01424" stroke-width="0.7" stroke-linejoin="miter" />
<polygon points="168.00,157.00 168.74,159.28 171.14,159.28 169.20,160.69 169.94,162.97 168.00,161.56 166.06,162.97 166.80,160.69 164.86,159.28 167.26,159.28" fill="#e87890" stroke="#e07088" stroke-width="0.7" stroke-linejoin="miter" />
<polygon points="173.40,230.40 174.14,232.68 176.54,232.68 174.60,234.09 175.34,236.37 173.40,234.96 171.46,236.37 172.20,234.09 170.26,232.68 172.66,232.68" fill="#e87890" stroke="#e07088" stroke-width="0.7" stroke-linejoin="miter" />
<circle cx="143.4" cy="73.6" r="3.2" fill="#5e1fca" opacity="0.92"/>
<circle cx="131.5" cy="80.2" r="3.2" fill="#5e1fca" opacity="0.92"/>
<circle cx="136.2" cy="79.1" r="3.2" fill="#5e1fca" opacity="0.92"/>
<circle cx="126.4" cy="85" r="3.2" fill="#5e1fca" opacity="0.92"/>
<circle cx="151.7" cy="91.5" r="3.2" fill="#5e1fca" opacity="0.92"/>
<circle cx="129.8" cy="106.8" r="3.2" fill="#5e1fca" opacity="0.92"/>
<circle cx="135.6" cy="125.2" r="3.2" fill="#5e1fca" opacity="0.92"/>
<circle cx="143.9" cy="149.3" r="3.2" fill="#5e1fca" opacity="0.92"/>
<circle cx="142.9" cy="169.5" r="3.2" fill="#5e1fca" opacity="0.92"/>
<circle cx="171.4" cy="117.3" r="3.2" fill="#5e1fca" opacity="0.92"/>
<circle cx="211.4" cy="112.2" r="3.2" fill="#5e1fca" opacity="0.92"/>
<circle cx="224.5" cy="77.4" r="3.2" fill="#5e1fca" opacity="0.92"/>
<circle cx="237" cy="75.2" r="3.2" fill="#5e1fca" opacity="0.92"/>
<circle cx="241.2" cy="73.5" r="3.2" fill="#5e1fca" opacity="0.92"/>
<circle cx="259.8" cy="96.6" r="3.2" fill="#5e1fca" opacity="0.92"/>
<circle cx="262.6" cy="99.7" r="3.2" fill="#5e1fca" opacity="0.92"/>
<circle cx="273.5" cy="123.1" r="3.2" fill="#5e1fca" opacity="0.92"/>
<circle cx="270.6" cy="144.1" r="3.2" fill="#5e1fca" opacity="0.92"/>
<circle cx="192.3" cy="136.4" r="3.2" fill="#5e1fca" opacity="0.92"/>
<circle cx="196.4" cy="141.5" r="3.2" fill="#5e1fca" opacity="0.92"/>
<circle cx="194.5" cy="139.5" r="3.2" fill="#5e1fca" opacity="0.92"/>
<circle cx="197.5" cy="139" r="3.2" fill="#5e1fca" opacity="0.92"/>
<circle cx="246.4" cy="171.2" r="3.2" fill="#5e1fca" opacity="0.92"/>
<circle cx="222.6" cy="193.1" r="3.2" fill="#5e1fca" opacity="0.92"/>
<circle cx="206.9" cy="221" r="3.2" fill="#5e1fca" opacity="0.92"/>
<circle cx="195.3" cy="224.2" r="3.2" fill="#5e1fca" opacity="0.92"/>
<circle cx="190.9" cy="228.9" r="3.2" fill="#5e1fca" opacity="0.92"/>
<circle cx="212.8" cy="241" r="3.2" fill="#5e1fca" opacity="0.92"/>
<circle cx="198.1" cy="258.6" r="3.2" fill="#5e1fca" opacity="0.92"/>
<circle cx="180.9" cy="264.2" r="3.2" fill="#5e1fca" opacity="0.92"/>
<circle cx="185.3" cy="264.9" r="3.2" fill="#5e1fca" opacity="0.92"/>
<circle cx="197.7" cy="271.5" r="3.2" fill="#5e1fca" opacity="0.92"/>
<circle cx="205" cy="285.4" r="3.2" fill="#5e1fca" opacity="0.92"/>
<circle cx="212.3" cy="241.1" r="3.2" fill="#5e1fca" opacity="0.92"/>
<circle cx="213.5" cy="145.1" r="3" fill="#4a4af0"/>
<line x1="94.4" y1="61.3" x2="128.5" y2="79.3" stroke="#111" stroke-width="1"/>
<polygon points="128.5,79.3 119.65,76.78 121.43,73.42" fill="#111"/>
<line x1="178.1" y1="49.3" x2="192.5" y2="134.5" stroke="#111" stroke-width="1"/>
<polygon points="192.5,134.5 189.13,125.94 192.87,125.31" fill="#111"/>
<line x1="258.4" y1="45.9" x2="243" y2="71.3" stroke="#111" stroke-width="1"/>
<polygon points="243,71.3 246.04,62.62 249.29,64.59" fill="#111"/>
<line x1="114.3" y1="187.5" x2="140.5" y2="171" stroke="#111" stroke-width="1"/>
<polygon points="140.5,171 133.90,177.40 131.87,174.19" fill="#111"/>
<line x1="226" y1="283.5" x2="207" y2="286" stroke="#111" stroke-width="1"/>
<polygon points="207,286 215.68,282.94 216.17,286.71" fill="#111"/>
<text x="59.90" y="57.30" font-size="11.8" font-family='"Liberation Sans", sans-serif' text-anchor="start" fill="#1a1a1a" textLength="30.6" lengthAdjust="spacingAndGlyphs" >11:19</text>
<text x="145.70" y="40.90" font-size="11.8" font-family='"Liberation Sans", sans-serif' text-anchor="start" fill="#1a1a1a" textLength="30.9" lengthAdjust="spacingAndGlyphs" >08:43</text>
<text x="260.60" y="40.90" font-size="11.8" font-family='"Liberation Sans", sans-serif' text-anchor="start" fill="#1a1a1a" textLength="30.6" lengthAdjust="spacingAndGlyphs" >05:30</text>
<text x="80.80" y="198.40" font-size="11.8" font-family='"Liberation Sans", sans-serif' text-anchor="start" fill="#1a1a1a" textLength="30.0" lengthAdjust="spacingAndGlyphs" >13:20</text>
<text x="229.50" y="292.20" font-size="11.8" font-family='"Liberation Sans", sans-serif' text-anchor="start" fill="#1a1a1a" textLength="31.0" lengthAdjust="spacingAndGlyphs" >00:00</text>
<rect x="52.6" y="259.4" width="111.9" height="56.1" rx="2.5" fill="#fff" fill-opacity="0.8" stroke="#d0d0d0" stroke-width="0.9"/>
<line x1="56.4" y1="266.8" x2="75" y2="266.8" stroke="#2a2ad8" stroke-width="1.1"/>
<line x1="56.4" y1="279.7" x2="75" y2="279.7" stroke="#e04040" stroke-width="0.9" stroke-dasharray="1 1.2"/>
<circle cx="65.9" cy="294.1" r="3.1" fill="#0000ff"/>
<polygon points="65.60,304.70 66.21,306.57 68.17,306.57 66.58,307.72 67.19,309.58 65.60,308.43 64.01,309.58 64.62,307.72 63.03,306.57 64.99,306.57" fill="#fff" stroke="#e01010" stroke-width="1.2" stroke-linejoin="miter" />
<text x="82.60" y="270.40" font-size="10.2" font-family='"Liberation Sans", sans-serif' text-anchor="start" fill="#1a1a1a" textLength="77.8" lengthAdjust="spacingAndGlyphs" >Exploration trace</text>
<text x="82.60" y="283.30" font-size="10.2" font-family='"Liberation Sans", sans-serif' text-anchor="start" fill="#1a1a1a" textLength="76.8" lengthAdjust="spacingAndGlyphs" >Recoupling trace</text>
<text x="82.60" y="297.20" font-size="10.2" font-family='"Liberation Sans", sans-serif' text-anchor="start" fill="#1a1a1a" textLength="52.5" lengthAdjust="spacingAndGlyphs" >MC location</text>
<text x="82.60" y="310.10" font-size="10.2" font-family='"Liberation Sans", sans-serif' text-anchor="start" fill="#1a1a1a" textLength="74.0" lengthAdjust="spacingAndGlyphs" >New exploration</text>
<rect x="48.3" y="16.4" width="306.00" height="304.00" fill="none" stroke="#262626" stroke-width="1"/>
<path d="M48.30 320.4v3.5M48.3 320.40h-3.5M57.86 320.4v2.0M48.3 310.90h-2.0M67.42 320.4v2.0M48.3 301.40h-2.0M76.99 320.4v2.0M48.3 291.90h-2.0M86.55 320.4v2.0M48.3 282.40h-2.0M96.11 320.4v3.5M48.3 272.90h-3.5M105.67 320.4v2.0M48.3 263.40h-2.0M115.24 320.4v2.0M48.3 253.90h-2.0M124.80 320.4v2.0M48.3 244.40h-2.0M134.36 320.4v2.0M48.3 234.90h-2.0M143.93 320.4v3.5M48.3 225.40h-3.5M153.49 320.4v2.0M48.3 215.90h-2.0M163.05 320.4v2.0M48.3 206.40h-2.0M172.61 320.4v2.0M48.3 196.90h-2.0M182.18 320.4v2.0M48.3 187.40h-2.0M191.74 320.4v3.5M48.3 177.90h-3.5M201.30 320.4v2.0M48.3 168.40h-2.0M210.86 320.4v2.0M48.3 158.90h-2.0M220.43 320.4v2.0M48.3 149.40h-2.0M229.99 320.4v2.0M48.3 139.90h-2.0M239.55 320.4v3.5M48.3 130.40h-3.5M249.11 320.4v2.0M48.3 120.90h-2.0M258.68 320.4v2.0M48.3 111.40h-2.0M268.24 320.4v2.0M48.3 101.90h-2.0M277.80 320.4v2.0M48.3 92.40h-2.0M287.36 320.4v3.5M48.3 82.90h-3.5M296.93 320.4v2.0M48.3 73.40h-2.0M306.49 320.4v2.0M48.3 63.90h-2.0M316.05 320.4v2.0M48.3 54.40h-2.0M325.61 320.4v2.0M48.3 44.90h-2.0M335.18 320.4v3.5M48.3 35.40h-3.5M344.74 320.4v2.0M48.3 25.90h-2.0" stroke="#262626" stroke-width="0.9" fill="none"/>
<text x="40.80" y="324.50" font-size="11.8" font-family='"Liberation Sans", sans-serif' text-anchor="end" fill="#1a1a1a" textLength="6.5" lengthAdjust="spacingAndGlyphs" >0</text>
<text x="48.30" y="335.20" font-size="11.8" font-family='"Liberation Sans", sans-serif' text-anchor="middle" fill="#1a1a1a" textLength="6.5" lengthAdjust="spacingAndGlyphs" >0</text>
<text x="40.80" y="277.00" font-size="11.8" font-family='"Liberation Sans", sans-serif' text-anchor="end" fill="#1a1a1a" textLength="19.4" lengthAdjust="spacingAndGlyphs" >100</text>
<text x="96.11" y="335.20" font-size="11.8" font-family='"Liberation Sans", sans-serif' text-anchor="middle" fill="#1a1a1a" textLength="19.4" lengthAdjust="spacingAndGlyphs" >100</text>
<text x="40.80" y="229.50" font-size="11.8" font-family='"Liberation Sans", sans-serif' text-anchor="end" fill="#1a1a1a" textLength="19.4" lengthAdjust="spacingAndGlyphs" >200</text>
<text x="143.93" y="335.20" font-size="11.8" font-family='"Liberation Sans", sans-serif' text-anchor="middle" fill="#1a1a1a" textLength="19.4" lengthAdjust="spacingAndGlyphs" >200</text>
<text x="40.80" y="182.00" font-size="11.8" font-family='"Liberation Sans", sans-serif' text-anchor="end" fill="#1a1a1a" textLength="19.4" lengthAdjust="spacingAndGlyphs" >300</text>
<text x="191.74" y="335.20" font-size="11.8" font-family='"Liberation Sans", sans-serif' text-anchor="middle" fill="#1a1a1a" textLength="19.4" lengthAdjust="spacingAndGlyphs" >300</text>
<text x="40.80" y="134.50" font-size="11.8" font-family='"Liberation Sans", sans-serif' text-anchor="end" fill="#1a1a1a" textLength="19.4" lengthAdjust="spacingAndGlyphs" >400</text>
<text x="239.55" y="335.20" font-size="11.8" font-family='"Liberation Sans", sans-serif' text-anchor="middle" fill="#1a1a1a" textLength="19.4" lengthAdjust="spacingAndGlyphs" >400</text>
<text x="40.80" y="87.00" font-size="11.8" font-family='"Liberation Sans", sans-serif' text-anchor="end" fill="#1a1a1a" textLength="19.4" lengthAdjust="spacingAndGlyphs" >500</text>
<text x="287.36" y="335.20" font-size="11.8" font-family='"Liberation Sans", sans-serif' text-anchor="middle" fill="#1a1a1a" textLength="19.4" lengthAdjust="spacingAndGlyphs" >500</text>
<text x="40.80" y="39.50" font-size="11.8" font-family='"Liberation Sans", sans-serif' text-anchor="end" fill="#1a1a1a" textLength="19.4" lengthAdjust="spacingAndGlyphs" >600</text>
<text x="335.18" y="335.20" font-size="11.8" font-family='"Liberation Sans", sans-serif' text-anchor="middle" fill="#1a1a1a" textLength="19.4" lengthAdjust="spacingAndGlyphs" >600</text>
<text x="201.30" y="348.50" font-size="11.5" font-family='"Liberation Sans", sans-serif' text-anchor="middle" fill="#1a1a1a" textLength="107.4" lengthAdjust="spacingAndGlyphs" >X-axis of MFN (mm)</text>
<text transform="translate(14.7,167.8) rotate(-90)" font-size="11.2" font-family='"Liberation Sans", sans-serif' text-anchor="middle" fill="#1a1a1a" textLength="108.2" lengthAdjust="spacingAndGlyphs">Y-axis of MFN (mm)</text>
<text x="371.20" y="9.10" font-size="11.2" font-family='"Liberation Serif", serif' text-anchor="start" fill="#1a1a1a" textLength="264.0" lengthAdjust="spacingAndGlyphs" >(b) Attractive force in the autonomous navigation period</text>
<clipPath id="cb"><rect x="408.4" y="29.6" width="260.6" height="118.9"/></clipPath>
<g clip-path="url(#cb)">
<path d="M408.8 76.5 L413.0 65.4 L419.9 94.8 L426.0 112.4 L433.4 70.0 L439.8 65.7 L445.0 109.3 L450.3 60.6 L457.1 93.6 L463.4 107.3 L469.7 70.3 L475.5 56.0 L480.9 58.0 L487.0 60.3 L493.4 96.2 L498.6 116.2 L503.4 66.6 L509.5 81.9 L516.0 68.3 L522.0 107.6 L528.2 52.9 L535.0 89.5 L540.3 71.4 L546.3 52.9 L552.7 110.7 L559.1 114.0 L565.8 90.6 L572.7 81.9 L579.2 89.5 L584.3 53.0 L591.1 55.5 L599.1 117.9 L607.4 125.6 L614.2 126.3 L621.1 109.3 L629.4 113.6 L639.4 115.0 L645.7 132.1 L651.5 43.5 L657.4 45.7 L663.0 66.9 L668.1 60.6" stroke="#ee1111" stroke-width="1.1" fill="none" stroke-dasharray="1.1 1.6"/>
<polygon points="408.80,73.50 409.47,75.57 411.65,75.57 409.89,76.85 410.56,78.93 408.80,77.65 407.04,78.93 407.71,76.85 405.95,75.57 408.13,75.57" fill="#f01010" stroke="none" stroke-width="0" stroke-linejoin="miter" />
<polygon points="413.00,62.40 413.67,64.47 415.85,64.47 414.09,65.75 414.76,67.83 413.00,66.55 411.24,67.83 411.91,65.75 410.15,64.47 412.33,64.47" fill="#f01010" stroke="none" stroke-width="0" stroke-linejoin="miter" />
<polygon points="419.90,91.80 420.57,93.87 422.75,93.87 420.99,95.15 421.66,97.23 419.90,95.95 418.14,97.23 418.81,95.15 417.05,93.87 419.23,93.87" fill="#f01010" stroke="none" stroke-width="0" stroke-linejoin="miter" />
<polygon points="426.00,109.40 426.67,111.47 428.85,111.47 427.09,112.75 427.76,114.83 426.00,113.55 424.24,114.83 424.91,112.75 423.15,111.47 425.33,111.47" fill="#f01010" stroke="none" stroke-width="0" stroke-linejoin="miter" />
<polygon points="433.40,67.00 434.07,69.07 436.25,69.07 434.49,70.35 435.16,72.43 433.40,71.15 431.64,72.43 432.31,70.35 430.55,69.07 432.73,69.07" fill="#f01010" stroke="none" stroke-width="0" stroke-linejoin="miter" />
<polygon points="439.80,62.70 440.47,64.77 442.65,64.77 440.89,66.05 441.56,68.13 439.80,66.85 438.04,68.13 438.71,66.05 436.95,64.77 439.13,64.77" fill="#f01010" stroke="none" stroke-width="0" stroke-linejoin="miter" />
<polygon points="445.00,106.30 445.67,108.37 447.85,108.37 446.09,109.65 446.76,111.73 445.00,110.45 443.24,111.73 443.91,109.65 442.15,108.37 444.33,108.37" fill="#f01010" stroke="none" stroke-width="0" stroke-linejoin="miter" />
<polygon points="450.30,57.60 450.97,59.67 453.15,59.67 451.39,60.95 452.06,63.03 450.30,61.75 448.54,63.03 449.21,60.95 447.45,59.67 449.63,59.67" fill="#f01010" stroke="none" stroke-width="0" stroke-linejoin="miter" />
<polygon points="457.10,90.60 457.77,92.67 459.95,92.67 458.19,93.95 458.86,96.03 457.10,94.75 455.34,96.03 456.01,93.95 454.25,92.67 456.43,92.67" fill="#f01010" stroke="none" stroke-width="0" stroke-linejoin="miter" />
<polygon points="463.40,104.30 464.07,106.37 466.25,106.37 464.49,107.65 465.16,109.73 463.40,108.45 461.64,109.73 462.31,107.65 460.55,106.37 462.73,106.37" fill="#f01010" stroke="none" stroke-width="0" stroke-linejoin="miter" />
<polygon points="469.70,67.30 470.37,69.37 472.55,69.37 470.79,70.65 471.46,72.73 469.70,71.45 467.94,72.73 468.61,70.65 466.85,69.37 469.03,69.37" fill="#f01010" stroke="none" stroke-width="0" stroke-linejoin="miter" />
<polygon points="475.50,53.00 476.17,55.07 478.35,55.07 476.59,56.35 477.26,58.43 475.50,57.15 473.74,58.43 474.41,56.35 472.65,55.07 474.83,55.07" fill="#f01010" stroke="none" stroke-width="0" stroke-linejoin="miter" />
<polygon points="480.90,55.00 481.57,57.07 483.75,57.07 481.99,58.35 482.66,60.43 480.90,59.15 479.14,60.43 479.81,58.35 478.05,57.07 480.23,57.07" fill="#f01010" stroke="none" stroke-width="0" stroke-linejoin="miter" />
<polygon points="487.00,57.30 487.67,59.37 489.85,59.37 488.09,60.65 488.76,62.73 487.00,61.45 485.24,62.73 485.91,60.65 484.15,59.37 486.33,59.37" fill="#f01010" stroke="none" stroke-width="0" stroke-linejoin="miter" />
<polygon points="493.40,93.20 494.07,95.27 496.25,95.27 494.49,96.55 495.16,98.63 493.40,97.35 491.64,98.63 492.31,96.55 490.55,95.27 492.73,95.27" fill="#f01010" stroke="none" stroke-width="0" stroke-linejoin="miter" />
<polygon points="498.60,113.20 499.27,115.27 501.45,115.27 499.69,116.55 500.36,118.63 498.60,117.35 496.84,118.63 497.51,116.55 495.75,115.27 497.93,115.27" fill="#f01010" stroke="none" stroke-width="0" stroke-linejoin="miter" />
<polygon points="503.40,63.60 504.07,65.67 506.25,65.67 504.49,66.95 505.16,69.03 503.40,67.75 501.64,69.03 502.31,66.95 500.55,65.67 502.73,65.67" fill="#f01010" stroke="none" stroke-width="0" stroke-linejoin="miter" />
<polygon points="509.50,78.90 510.17,80.97 512.35,80.97 510.59,82.25 511.26,84.33 509.50,83.05 507.74,84.33 508.41,82.25 506.65,80.97 508.83,80.97" fill="#f01010" stroke="none" stroke-width="0" stroke-linejoin="miter" />
<polygon points="516.00,65.30 516.67,67.37 518.85,67.37 517.09,68.65 517.76,70.73 516.00,69.45 514.24,70.73 514.91,68.65 513.15,67.37 515.33,67.37" fill="#f01010" stroke="none" stroke-width="0" stroke-linejoin="miter" />
<polygon points="522.00,104.60 522.67,106.67 524.85,106.67 523.09,107.95 523.76,110.03 522.00,108.75 520.24,110.03 520.91,107.95 519.15,106.67 521.33,106.67" fill="#f01010" stroke="none" stroke-width="0" stroke-linejoin="miter" />
<polygon points="528.20,49.90 528.87,51.97 531.05,51.97 529.29,53.25 529.96,55.33 528.20,54.05 526.44,55.33 527.11,53.25 525.35,51.97 527.53,51.97" fill="#f01010" stroke="none" stroke-width="0" stroke-linejoin="miter" />
<polygon points="535.00,86.50 535.67,88.57 537.85,88.57 536.09,89.85 536.76,91.93 535.00,90.65 533.24,91.93 533.91,89.85 532.15,88.57 534.33,88.57" fill="#f01010" stroke="none" stroke-width="0" stroke-linejoin="miter" />
<polygon points="540.30,68.40 540.97,70.47 543.15,70.47 541.39,71.75 542.06,73.83 540.30,72.55 538.54,73.83 539.21,71.75 537.45,70.47 539.63,70.47" fill="#f01010" stroke="none" stroke-width="0" stroke-linejoin="miter" />
<polygon points="546.30,49.90 546.97,51.97 549.15,51.97 547.39,53.25 548.06,55.33 546.30,54.05 544.54,55.33 545.21,53.25 543.45,51.97 545.63,51.97" fill="#f01010" stroke="none" stroke-width="0" stroke-linejoin="miter" />
<polygon points="552.70,107.70 553.37,109.77 555.55,109.77 553.79,111.05 554.46,113.13 552.70,111.85 550.94,113.13 551.61,111.05 549.85,109.77 552.03,109.77" fill="#f01010" stroke="none" stroke-width="0" stroke-linejoin="miter" />
<polygon points="559.10,111.00 559.77,113.07 561.95,113.07 560.19,114.35 560.86,116.43 559.10,115.15 557.34,116.43 558.01,114.35 556.25,113.07 558.43,113.07" fill="#f01010" stroke="none" stroke-width="0" stroke-linejoin="miter" />
<polygon points="565.80,87.60 566.47,89.67 568.65,89.67 566.89,90.95 567.56,93.03 565.80,91.75 564.04,93.03 564.71,90.95 562.95,89.67 565.13,89.67" fill="#f01010" stroke="none" stroke-width="0" stroke-linejoin="miter" />
<polygon points="572.70,78.90 573.37,80.97 575.55,80.97 573.79,82.25 574.46,84.33 572.70,83.05 570.94,84.33 571.61,82.25 569.85,80.97 572.03,80.97" fill="#f01010" stroke="none" stroke-width="0" stroke-linejoin="miter" />
<polygon points="579.20,86.50 579.87,88.57 582.05,88.57 580.29,89.85 580.96,91.93 579.20,90.65 577.44,91.93 578.11,89.85 576.35,88.57 578.53,88.57" fill="#f01010" stroke="none" stroke-width="0" stroke-linejoin="miter" />
<polygon points="584.30,50.00 584.97,52.07 587.15,52.07 585.39,53.35 586.06,55.43 584.30,54.15 582.54,55.43 583.21,53.35 581.45,52.07 583.63,52.07" fill="#f01010" stroke="none" stroke-width="0" stroke-linejoin="miter" />
<polygon points="591.10,52.50 591.77,54.57 593.95,54.57 592.19,55.85 592.86,57.93 591.10,56.65 589.34,57.93 590.01,55.85 588.25,54.57 590.43,54.57" fill="#f01010" stroke="none" stroke-width="0" stroke-linejoin="miter" />
<polygon points="599.10,114.90 599.77,116.97 601.95,116.97 600.19,118.25 600.86,120.33 599.10,119.05 597.34,120.33 598.01,118.25 596.25,116.97 598.43,116.97" fill="#f01010" stroke="none" stroke-width="0" stroke-linejoin="miter" />
<polygon points="607.40,122.60 608.07,124.67 610.25,124.67 608.49,125.95 609.16,128.03 607.40,126.75 605.64,128.03 606.31,125.95 604.55,124.67 606.73,124.67" fill="#f01010" stroke="none" stroke-width="0" stroke-linejoin="miter" />
<polygon points="614.20,123.30 614.87,125.37 617.05,125.37 615.29,126.65 615.96,128.73 614.20,127.45 612.44,128.73 613.11,126.65 611.35,125.37 613.53,125.37" fill="#f01010" stroke="none" stroke-width="0" stroke-linejoin="miter" />
<polygon points="621.10,106.30 621.77,108.37 623.95,108.37 622.19,109.65 622.86,111.73 621.10,110.45 619.34,111.73 620.01,109.65 618.25,108.37 620.43,108.37" fill="#f01010" stroke="none" stroke-width="0" stroke-linejoin="miter" />
<polygon points="629.40,110.60 630.07,112.67 632.25,112.67 630.49,113.95 631.16,116.03 629.40,114.75 627.64,116.03 628.31,113.95 626.55,112.67 628.73,112.67" fill="#f01010" stroke="none" stroke-width="0" stroke-linejoin="miter" />
<polygon points="639.40,112.00 640.07,114.07 642.25,114.07 640.49,115.35 641.16,117.43 639.40,116.15 637.64,117.43 638.31,115.35 636.55,114.07 638.73,114.07" fill="#f01010" stroke="none" stroke-width="0" stroke-linejoin="miter" />
<polygon points="645.70,129.10 646.37,131.17 648.55,131.17 646.79,132.45 647.46,134.53 645.70,133.25 643.94,134.53 644.61,132.45 642.85,131.17 645.03,131.17" fill="#f01010" stroke="none" stroke-width="0" stroke-linejoin="miter" />
<polygon points="651.50,40.50 652.17,42.57 654.35,42.57 652.59,43.85 653.26,45.93 651.50,44.65 649.74,45.93 650.41,43.85 648.65,42.57 650.83,42.57" fill="#f01010" stroke="none" stroke-width="0" stroke-linejoin="miter" />
<polygon points="657.40,42.70 658.07,44.77 660.25,44.77 658.49,46.05 659.16,48.13 657.40,46.85 655.64,48.13 656.31,46.05 654.55,44.77 656.73,44.77" fill="#f01010" stroke="none" stroke-width="0" stroke-linejoin="miter" />
<polygon points="663.00,63.90 663.67,65.97 665.85,65.97 664.09,67.25 664.76,69.33 663.00,68.05 661.24,69.33 661.91,67.25 660.15,65.97 662.33,65.97" fill="#f01010" stroke="none" stroke-width="0" stroke-linejoin="miter" />
<polygon points="668.10,57.60 668.77,59.67 670.95,59.67 669.19,60.95 669.86,63.03 668.10,61.75 666.34,63.03 667.01,60.95 665.25,59.67 667.43,59.67" fill="#f01010" stroke="none" stroke-width="0" stroke-linejoin="miter" />
<path d="M408.8 48.3 L413.0 52.6 L419.9 53.4 L426.0 54.6 L433.4 54.3 L439.8 48.3 L445.0 48.3 L450.3 54.3 L457.1 54.3 L463.4 52.6 L469.7 53.1 L475.5 53.0 L480.9 58.8 L487.0 57.3 L493.4 54.1 L498.6 57.9 L503.4 50.9 L509.5 54.2 L516.0 52.4 L522.0 48.3 L528.2 51.5 L535.0 50.9 L540.3 56.0 L546.3 49.5 L552.7 50.9 L559.1 54.8 L565.8 52.5 L572.7 51.2 L579.2 53.2 L584.3 51.2 L591.1 54.3 L599.1 66.6 L607.4 67.4 L614.2 68.3 L621.1 69.0 L629.4 71.4 L639.4 69.6 L645.7 69.0 L651.5 40.4 L657.4 43.2 L663.0 49.8 L668.1 51.5" stroke="#0000ff" stroke-width="1.3" fill="none"/>
<circle cx="408.8" cy="48.3" r="2.55" fill="#0000ff"/>
<circle cx="413.0" cy="52.6" r="2.55" fill="#0000ff"/>
<circle cx="419.9" cy="53.4" r="2.55" fill="#0000ff"/>
<circle cx="426.0" cy="54.6" r="2.55" fill="#0000ff"/>
<circle cx="433.4" cy="54.3" r="2.55" fill="#0000ff"/>
<circle cx="439.8" cy="48.3" r="2.55" fill="#0000ff"/>
<circle cx="445.0" cy="48.3" r="2.55" fill="#0000ff"/>
<circle cx="450.3" cy="54.3" r="2.55" fill="#0000ff"/>
<circle cx="457.1" cy="54.3" r="2.55" fill="#0000ff"/>
<circle cx="463.4" cy="52.6" r="2.55" fill="#0000ff"/>
<circle cx="469.7" cy="53.1" r="2.55" fill="#0000ff"/>
<circle cx="475.5" cy="53.0" r="2.55" fill="#0000ff"/>
<circle cx="480.9" cy="58.8" r="2.55" fill="#0000ff"/>
<circle cx="487.0" cy="57.3" r="2.55" fill="#0000ff"/>
<circle cx="493.4" cy="54.1" r="2.55" fill="#0000ff"/>
<circle cx="498.6" cy="57.9" r="2.55" fill="#0000ff"/>
<circle cx="503.4" cy="50.9" r="2.55" fill="#0000ff"/>
<circle cx="509.5" cy="54.2" r="2.55" fill="#0000ff"/>
<circle cx="516.0" cy="52.4" r="2.55" fill="#0000ff"/>
<circle cx="522.0" cy="48.3" r="2.55" fill="#0000ff"/>
<circle cx="528.2" cy="51.5" r="2.55" fill="#0000ff"/>
<circle cx="535.0" cy="50.9" r="2.55" fill="#0000ff"/>
<circle cx="540.3" cy="56.0" r="2.55" fill="#0000ff"/>
<circle cx="546.3" cy="49.5" r="2.55" fill="#0000ff"/>
<circle cx="552.7" cy="50.9" r="2.55" fill="#0000ff"/>
<circle cx="559.1" cy="54.8" r="2.55" fill="#0000ff"/>
<circle cx="565.8" cy="52.5" r="2.55" fill="#0000ff"/>
<circle cx="572.7" cy="51.2" r="2.55" fill="#0000ff"/>
<circle cx="579.2" cy="53.2" r="2.55" fill="#0000ff"/>
<circle cx="584.3" cy="51.2" r="2.55" fill="#0000ff"/>
<circle cx="591.1" cy="54.3" r="2.55" fill="#0000ff"/>
<circle cx="599.1" cy="66.6" r="2.55" fill="#0000ff"/>
<circle cx="607.4" cy="67.4" r="2.55" fill="#0000ff"/>
<circle cx="614.2" cy="68.3" r="2.55" fill="#0000ff"/>
<circle cx="621.1" cy="69.0" r="2.55" fill="#0000ff"/>
<circle cx="629.4" cy="71.4" r="2.55" fill="#0000ff"/>
<circle cx="639.4" cy="69.6" r="2.55" fill="#0000ff"/>
<circle cx="645.7" cy="69.0" r="2.55" fill="#0000ff"/>
<circle cx="651.5" cy="40.4" r="2.55" fill="#0000ff"/>
<circle cx="657.4" cy="43.2" r="2.55" fill="#0000ff"/>
<circle cx="663.0" cy="49.8" r="2.55" fill="#0000ff"/>
<circle cx="668.1" cy="51.5" r="2.55" fill="#0000ff"/>
</g>
<rect x="411.7" y="120.5" width="155.1" height="24.3" rx="2" fill="#fff" fill-opacity="0.8" stroke="#d4d4d4" stroke-width="0.8"/>
<line x1="414.2" y1="126.2" x2="429.6" y2="126.2" stroke="#ee1111" stroke-width="1.1" stroke-dasharray="1.1 1.6"/>
<polygon points="422.30,123.60 422.88,125.40 424.77,125.40 423.24,126.51 423.83,128.30 422.30,127.19 420.77,128.30 421.36,126.51 419.83,125.40 421.72,125.40" fill="#f01010" stroke="none" stroke-width="0" stroke-linejoin="miter" />
<line x1="414.2" y1="137.8" x2="429.8" y2="137.8" stroke="#0000ff" stroke-width="1.3"/>
<circle cx="422.3" cy="137.8" r="2.2" fill="#0000ff"/>
<text x="434.80" y="128.80" font-size="7.4" font-family='"Liberation Sans", sans-serif' text-anchor="start" fill="#1a1a1a" textLength="128.3" lengthAdjust="spacingAndGlyphs" >Attractive force at MFN destination</text>
<text x="434.80" y="140.40" font-size="7.4" font-family='"Liberation Sans", sans-serif' text-anchor="start" fill="#1a1a1a" textLength="111.4" lengthAdjust="spacingAndGlyphs" >Attractive force at MC location</text>
<rect x="408.4" y="29.6" width="260.60" height="118.90" fill="none" stroke="#262626" stroke-width="1"/>
<path d="M408.4 148.50h-2.6M408.4 132.63h-2.6M408.4 116.76h-2.6M408.4 100.89h-2.6M408.4 85.01h-2.6M408.4 69.14h-2.6M408.4 53.27h-2.6M408.4 37.40h-2.6M408.4 148.5v2.6M464.6 148.5v2.6M520.9 148.5v2.6M577.2 148.5v2.6M633.2 148.5v2.6M668.8 148.5v2.6" stroke="#262626" stroke-width="0.9" fill="none"/>
<text x="402.10" y="152.30" font-size="11.0" font-family='"Liberation Sans", sans-serif' text-anchor="end" fill="#1a1a1a" textLength="5.8" lengthAdjust="spacingAndGlyphs" >0</text>
<text x="402.10" y="136.43" font-size="11.0" font-family='"Liberation Sans", sans-serif' text-anchor="end" fill="#1a1a1a" textLength="11.6" lengthAdjust="spacingAndGlyphs" >20</text>
<text x="402.10" y="120.56" font-size="11.0" font-family='"Liberation Sans", sans-serif' text-anchor="end" fill="#1a1a1a" textLength="11.6" lengthAdjust="spacingAndGlyphs" >40</text>
<text x="402.10" y="104.69" font-size="11.0" font-family='"Liberation Sans", sans-serif' text-anchor="end" fill="#1a1a1a" textLength="11.6" lengthAdjust="spacingAndGlyphs" >60</text>
<text x="402.10" y="88.81" font-size="11.0" font-family='"Liberation Sans", sans-serif' text-anchor="end" fill="#1a1a1a" textLength="11.6" lengthAdjust="spacingAndGlyphs" >80</text>
<text x="402.10" y="72.94" font-size="11.0" font-family='"Liberation Sans", sans-serif' text-anchor="end" fill="#1a1a1a" textLength="17.4" lengthAdjust="spacingAndGlyphs" >100</text>
<text x="402.10" y="57.07" font-size="11.0" font-family='"Liberation Sans", sans-serif' text-anchor="end" fill="#1a1a1a" textLength="17.4" lengthAdjust="spacingAndGlyphs" >120</text>
<text x="402.10" y="41.20" font-size="11.0" font-family='"Liberation Sans", sans-serif' text-anchor="end" fill="#1a1a1a" textLength="17.4" lengthAdjust="spacingAndGlyphs" >140</text>
<text x="408.40" y="161.70" font-size="11.0" font-family='"Liberation Sans", sans-serif' text-anchor="middle" fill="#1a1a1a" textLength="27.4" lengthAdjust="spacingAndGlyphs" >00:00</text>
<text x="464.60" y="161.70" font-size="11.0" font-family='"Liberation Sans", sans-serif' text-anchor="middle" fill="#1a1a1a" textLength="27.4" lengthAdjust="spacingAndGlyphs" >02:52</text>
<text x="520.90" y="161.70" font-size="11.0" font-family='"Liberation Sans", sans-serif' text-anchor="middle" fill="#1a1a1a" textLength="27.4" lengthAdjust="spacingAndGlyphs" >05:45</text>
<text x="577.20" y="161.70" font-size="11.0" font-family='"Liberation Sans", sans-serif' text-anchor="middle" fill="#1a1a1a" textLength="27.4" lengthAdjust="spacingAndGlyphs" >08:38</text>
<text x="633.20" y="161.70" font-size="11.0" font-family='"Liberation Sans", sans-serif' text-anchor="middle" fill="#1a1a1a" textLength="27.4" lengthAdjust="spacingAndGlyphs" >11:31</text>
<text x="668.80" y="161.70" font-size="11.0" font-family='"Liberation Sans", sans-serif' text-anchor="middle" fill="#1a1a1a" textLength="27.4" lengthAdjust="spacingAndGlyphs" >13:20</text>
<text x="538.20" y="174.50" font-size="11.2" font-family='"Liberation Sans", sans-serif' text-anchor="middle" fill="#1a1a1a" textLength="172.1" lengthAdjust="spacingAndGlyphs" >Time Consuming (Minute:Second)</text>
<text transform="translate(378.0,88.6) rotate(-90)" font-size="10.6" font-family='"Liberation Sans", sans-serif' text-anchor="middle" fill="#1a1a1a" textLength="145.5" lengthAdjust="spacingAndGlyphs">Magnet Attractive Force (gF)</text>
<text x="371.20" y="196.30" font-size="10.9" font-family='"Liberation Serif", serif' text-anchor="start" fill="#1a1a1a" textLength="244.3" lengthAdjust="spacingAndGlyphs" >(c) The time required for 25 different shape settings.</text>
<rect x="426.75" y="242.4" width="7.6" height="85.00" fill="#1f77b4"/>
<rect x="436.34" y="237.0" width="7.6" height="90.40" fill="#1f77b4"/>
<rect x="445.93" y="216.1" width="7.6" height="111.30" fill="#1f77b4"/>
<rect x="455.52" y="214.5" width="7.6" height="112.90" fill="#1f77b4"/>
<rect x="465.11" y="250.9" width="7.6" height="76.50" fill="#1f77b4"/>
<rect x="474.70" y="243.7" width="7.6" height="83.70" fill="#1f77b4"/>
<rect x="484.29" y="243.2" width="7.6" height="84.20" fill="#1f77b4"/>
<rect x="493.88" y="241.8" width="7.6" height="85.60" fill="#1f77b4"/>
<rect x="503.47" y="235.0" width="7.6" height="92.40" fill="#1f77b4"/>
<rect x="513.06" y="233.6" width="7.6" height="93.80" fill="#1f77b4"/>
<rect x="522.65" y="235.1" width="7.6" height="92.30" fill="#1f77b4"/>
<rect x="532.24" y="228.9" width="7.6" height="98.50" fill="#1f77b4"/>
<rect x="541.83" y="233.3" width="7.6" height="94.10" fill="#1f77b4"/>
<rect x="551.42" y="244.5" width="7.6" height="82.90" fill="#1f77b4"/>
<rect x="561.01" y="235.3" width="7.6" height="92.10" fill="#1f77b4"/>
<rect x="570.60" y="222.2" width="7.6" height="105.20" fill="#1f77b4"/>
<rect x="580.19" y="242.0" width="7.6" height="85.40" fill="#1f77b4"/>
<rect x="589.78" y="241.3" width="7.6" height="86.10" fill="#1f77b4"/>
<rect x="599.37" y="249.9" width="7.6" height="77.50" fill="#1f77b4"/>
<rect x="608.96" y="232.0" width="7.6" height="95.40" fill="#1f77b4"/>
<rect x="618.55" y="228.0" width="7.6" height="99.40" fill="#1f77b4"/>
<rect x="628.14" y="243.7" width="7.6" height="83.70" fill="#1f77b4"/>
<rect x="637.73" y="237.8" width="7.6" height="89.60" fill="#1f77b4"/>
<rect x="647.32" y="264.9" width="7.6" height="62.50" fill="#1f77b4"/>
<rect x="656.91" y="246.6" width="7.6" height="80.80" fill="#1f77b4"/>
<path d="M421.5 203 V327.5 M421 327.5 H670.9" fill="none" stroke="#9a9a9a" stroke-width="1"/>
<path d="M421 203.3 H670.4 V327.5" fill="none" stroke="#5a5a5a" stroke-width="1"/>
<path d="M430.55 327.4v3M440.14 327.4v3M449.73 327.4v3M459.32 327.4v3M468.91 327.4v3M478.50 327.4v3M488.09 327.4v3M497.68 327.4v3M507.27 327.4v3M516.86 327.4v3M526.45 327.4v3M536.04 327.4v3M545.63 327.4v3M555.22 327.4v3M564.81 327.4v3M574.40 327.4v3M583.99 327.4v3M593.58 327.4v3M603.17 327.4v3M612.76 327.4v3M622.35 327.4v3M631.94 327.4v3M641.53 327.4v3M651.12 327.4v3M660.71 327.4v3M421.0 327.40h-3M421.0 298.67h-3M421.0 269.95h-3M421.0 241.22h-3M421.0 212.50h-3" stroke="#333" stroke-width="0.9" fill="none"/>
<text x="430.55" y="340.70" font-size="10.2" font-family='"Liberation Sans", sans-serif' text-anchor="middle" fill="#1a1a1a" textLength="5.6" lengthAdjust="spacingAndGlyphs" >1</text>
<text x="449.73" y="340.70" font-size="10.2" font-family='"Liberation Sans", sans-serif' text-anchor="middle" fill="#1a1a1a" textLength="5.6" lengthAdjust="spacingAndGlyphs" >3</text>
<text x="468.91" y="340.70" font-size="10.2" font-family='"Liberation Sans", sans-serif' text-anchor="middle" fill="#1a1a1a" textLength="5.6" lengthAdjust="spacingAndGlyphs" >5</text>
<text x="488.09" y="340.70" font-size="10.2" font-family='"Liberation Sans", sans-serif' text-anchor="middle" fill="#1a1a1a" textLength="5.6" lengthAdjust="spacingAndGlyphs" >7</text>
<text x="507.27" y="340.70" font-size="10.2" font-family='"Liberation Sans", sans-serif' text-anchor="middle" fill="#1a1a1a" textLength="5.6" lengthAdjust="spacingAndGlyphs" >9</text>
<text x="526.45" y="340.70" font-size="10.2" font-family='"Liberation Sans", sans-serif' text-anchor="middle" fill="#1a1a1a" textLength="11.2" lengthAdjust="spacingAndGlyphs" >11</text>
<text x="545.63" y="340.70" font-size="10.2" font-family='"Liberation Sans", sans-serif' text-anchor="middle" fill="#1a1a1a" textLength="11.2" lengthAdjust="spacingAndGlyphs" >13</text>
<text x="564.81" y="340.70" font-size="10.2" font-family='"Liberation Sans", sans-serif' text-anchor="middle" fill="#1a1a1a" textLength="11.2" lengthAdjust="spacingAndGlyphs" >15</text>
<text x="583.99" y="340.70" font-size="10.2" font-family='"Liberation Sans", sans-serif' text-anchor="middle" fill="#1a1a1a" textLength="11.2" lengthAdjust="spacingAndGlyphs" >17</text>
<text x="603.17" y="340.70" font-size="10.2" font-family='"Liberation Sans", sans-serif' text-anchor="middle" fill="#1a1a1a" textLength="11.2" lengthAdjust="spacingAndGlyphs" >19</text>
<text x="622.35" y="340.70" font-size="10.2" font-family='"Liberation Sans", sans-serif' text-anchor="middle" fill="#1a1a1a" textLength="11.2" lengthAdjust="spacingAndGlyphs" >21</text>
<text x="641.53" y="340.70" font-size="10.2" font-family='"Liberation Sans", sans-serif' text-anchor="middle" fill="#1a1a1a" textLength="11.2" lengthAdjust="spacingAndGlyphs" >23</text>
<text x="660.71" y="340.70" font-size="10.2" font-family='"Liberation Sans", sans-serif' text-anchor="middle" fill="#1a1a1a" textLength="11.2" lengthAdjust="spacingAndGlyphs" >25</text>
<text transform="translate(404.4,327.90) rotate(-60)" y="3.4" font-size="9.6" font-family='"Liberation Sans", sans-serif' text-anchor="middle" fill="#1a1a1a" textLength="25.3" lengthAdjust="spacingAndGlyphs">00:00</text>
<text transform="translate(404.4,299.17) rotate(-60)" y="3.4" font-size="9.6" font-family='"Liberation Sans", sans-serif' text-anchor="middle" fill="#1a1a1a" textLength="25.3" lengthAdjust="spacingAndGlyphs">05:00</text>
<text transform="translate(404.4,270.45) rotate(-60)" y="3.4" font-size="9.6" font-family='"Liberation Sans", sans-serif' text-anchor="middle" fill="#1a1a1a" textLength="25.3" lengthAdjust="spacingAndGlyphs">10:00</text>
<text transform="translate(404.4,241.72) rotate(-60)" y="3.4" font-size="9.6" font-family='"Liberation Sans", sans-serif' text-anchor="middle" fill="#1a1a1a" textLength="25.3" lengthAdjust="spacingAndGlyphs">15:00</text>
<text transform="translate(404.4,213.00) rotate(-60)" y="3.4" font-size="9.6" font-family='"Liberation Sans", sans-serif' text-anchor="middle" fill="#1a1a1a" textLength="25.3" lengthAdjust="spacingAndGlyphs">20:00</text>
<text x="545.20" y="353.40" font-size="10.0" font-family='"Liberation Sans", sans-serif' text-anchor="middle" fill="#1a1a1a" textLength="178.7" lengthAdjust="spacingAndGlyphs" >Autonomous Navigation Experiments</text>
<text transform="translate(377.3,265.6) rotate(-90)" font-size="10" font-family='"Liberation Sans", sans-serif' text-anchor="middle" fill="#1a1a1a" textLength="78.8" lengthAdjust="spacingAndGlyphs">Time Consuming</text>
<text transform="translate(389.0,266.2) rotate(-90)" font-size="10" font-family='"Liberation Sans", sans-serif' text-anchor="middle" fill="#1a1a1a" textLength="77.7" lengthAdjust="spacingAndGlyphs">(Minute:Second)</text>
</g></svg></body></html>
